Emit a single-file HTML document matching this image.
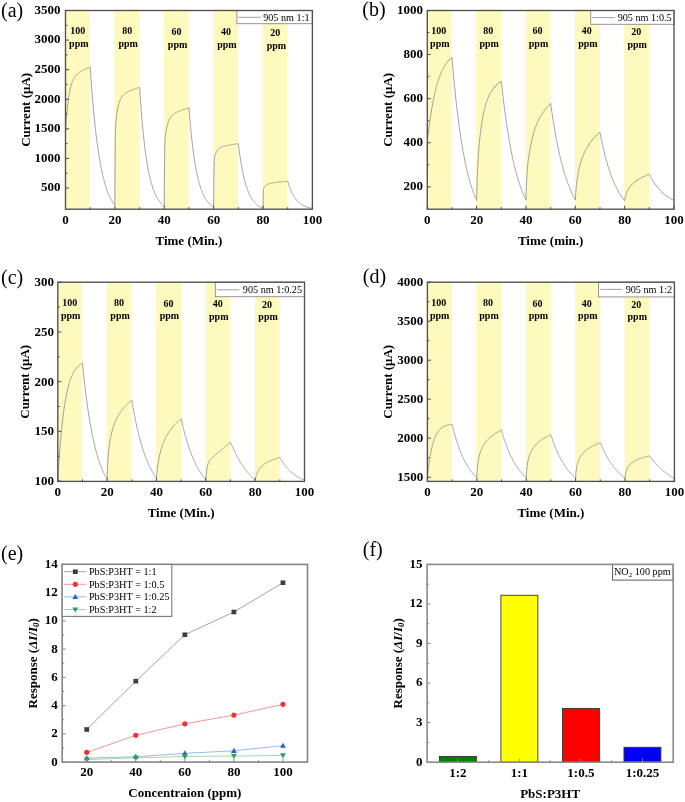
<!DOCTYPE html>
<html><head><meta charset="utf-8"><title>Figure</title>
<style>
html,body{margin:0;padding:0;background:#fff;}
svg{display:block;filter:blur(0.35px);}
svg text{font-family:"Liberation Serif", serif;}
</style></head>
<body>
<svg width="685" height="802" viewBox="0 0 685 802">
<rect width="685" height="802" fill="#fff"/>
<text x="1" y="16.9" font-size="20" font-weight="normal" font-style="normal" text-anchor="start" fill="#000">(a)</text>
<text x="362.3" y="15.9" font-size="20" font-weight="normal" font-style="normal" text-anchor="start" fill="#000">(b)</text>
<text x="1" y="283.6" font-size="20" font-weight="normal" font-style="normal" text-anchor="start" fill="#000">(c)</text>
<text x="362.8" y="283.3" font-size="20" font-weight="normal" font-style="normal" text-anchor="start" fill="#000">(d)</text>
<text x="1" y="560.1" font-size="20" font-weight="normal" font-style="normal" text-anchor="start" fill="#000">(e)</text>
<text x="362.8" y="555.8" font-size="20" font-weight="normal" font-style="normal" text-anchor="start" fill="#000">(f)</text>
<rect x="65.5" y="10.5" width="24.49" height="198.7" fill="#fef9bd"/>
<rect x="114.39" y="10.5" width="24.99" height="198.7" fill="#fef9bd"/>
<rect x="163.77" y="10.5" width="24.99" height="198.7" fill="#fef9bd"/>
<rect x="213.15" y="10.5" width="24.99" height="198.7" fill="#fef9bd"/>
<rect x="262.53" y="10.5" width="24.99" height="198.7" fill="#fef9bd"/>
<path d="M65.5 131.79L65.55 130.99L65.62 129.81L65.75 127.9L65.87 126.05L65.99 124.26L66.12 122.54L66.24 120.87L66.36 119.26L66.49 117.71L66.61 116.2L66.73 114.75L66.98 112L67.23 109.43L67.48 107.02L67.72 104.78L67.97 102.69L68.22 100.73L68.46 98.9L68.71 97.19L68.96 95.59L69.2 94.1L69.45 92.7L69.7 91.39L69.94 90.17L70.19 89.02L70.44 87.94L70.68 86.94L70.93 85.99L71.18 85.1L71.43 84.27L71.67 83.49L71.92 82.76L72.17 82.07L72.41 81.42L72.66 80.81L72.91 80.23L73.15 79.69L73.4 79.17L73.65 78.69L73.89 78.23L74.14 77.8L74.39 77.39L74.64 77L74.88 76.64L75.13 76.29L75.38 75.96L75.62 75.64L75.87 75.34L76.12 75.05L76.36 74.78L76.61 74.52L76.86 74.27L77.1 74.03L77.35 73.8L77.6 73.58L77.84 73.37L78.09 73.17L78.34 72.97L78.59 72.78L78.83 72.6L79.08 72.42L79.33 72.25L79.57 72.08L79.82 71.92L80.07 71.76L80.31 71.61L80.56 71.46L80.81 71.31L81.05 71.17L81.3 71.03L81.55 70.89L81.8 70.76L82.04 70.63L82.29 70.5L82.54 70.37L82.78 70.25L83.03 70.12L83.28 70L83.52 69.88L83.77 69.77L84.02 69.65L84.26 69.54L84.51 69.42L84.76 69.31L85.01 69.2L85.25 69.09L85.5 68.98L85.75 68.87L85.99 68.76L86.24 68.65L86.49 68.55L86.73 68.44L86.98 68.33L87.23 68.23L87.47 68.13L87.72 68.02L87.97 67.92L88.21 67.82L88.46 67.71L88.71 67.61L88.96 67.51L89.2 67.41L89.45 67.31L89.7 67.21L89.94 67.1L90.19 67L90.44 70.71L90.68 74.33L90.93 77.86L91.18 81.31L91.42 84.66L91.67 87.94L91.92 91.13L92.17 94.25L92.41 97.29L92.66 100.25L92.91 103.14L93.15 105.96L93.4 108.71L93.65 111.39L93.89 114.01L94.14 116.56L94.39 119.05L94.63 121.48L94.88 123.85L95.13 126.16L95.37 128.41L95.62 130.61L95.87 132.75L96.12 134.84L96.36 136.88L96.61 138.87L96.86 140.81L97.1 142.7L97.35 144.54L97.6 146.34L97.84 148.1L98.09 149.81L98.34 151.48L98.58 153.11L98.83 154.7L99.08 156.25L99.33 157.76L99.57 159.23L99.82 160.67L100.07 162.07L100.31 163.44L100.56 164.77L100.81 166.08L101.05 167.35L101.3 168.58L101.55 169.79L101.79 170.97L102.04 172.12L102.29 173.24L102.53 174.33L102.78 175.4L103.03 176.43L103.28 177.45L103.52 178.44L103.77 179.4L104.02 180.34L104.26 181.26L104.51 182.16L104.76 183.03L105 183.88L105.25 184.71L105.5 185.52L105.74 186.31L105.99 187.08L106.24 187.83L106.49 188.57L106.73 189.28L106.98 189.98L107.23 190.66L107.47 191.32L107.72 191.97L107.97 192.6L108.21 193.22L108.46 193.82L108.71 194.4L108.95 194.97L109.2 195.53L109.45 196.07L109.7 196.6L109.94 197.12L110.19 197.62L110.44 198.12L110.68 198.6L110.93 199.06L111.18 199.52L111.42 199.96L111.67 200.4L111.92 200.82L112.16 201.24L112.41 201.64L112.66 202.03L112.9 202.41L113.15 202.79L113.4 203.15L113.65 203.51L113.89 203.86L114.14 204.19L114.39 204.52L114.63 204.85L114.88 205.16L114.88 205.16L114.93 191.2L115 174.67L115.13 155.65L115.25 143.61L115.37 135.82L115.5 130.63L115.62 127.04L115.74 124.42L115.87 122.42L115.99 120.81L116.11 119.46L116.36 117.19L116.61 115.27L116.86 113.56L117.1 112L117.35 110.57L117.6 109.25L117.84 108.03L118.09 106.9L118.34 105.86L118.58 104.89L118.83 103.99L119.08 103.15L119.32 102.38L119.57 101.66L119.82 100.99L120.06 100.37L120.31 99.79L120.56 99.25L120.81 98.74L121.05 98.27L121.3 97.83L121.55 97.42L121.79 97.03L122.04 96.67L122.29 96.33L122.53 96.01L122.78 95.7L123.03 95.42L123.27 95.15L123.52 94.89L123.77 94.65L124.02 94.42L124.26 94.21L124.51 94L124.76 93.8L125 93.61L125.25 93.43L125.5 93.26L125.74 93.09L125.99 92.93L126.24 92.77L126.48 92.62L126.73 92.48L126.98 92.34L127.22 92.2L127.47 92.07L127.72 91.94L127.97 91.81L128.21 91.69L128.46 91.57L128.71 91.45L128.95 91.34L129.2 91.23L129.45 91.12L129.69 91.01L129.94 90.9L130.19 90.79L130.43 90.69L130.68 90.59L130.93 90.48L131.18 90.38L131.42 90.28L131.67 90.18L131.92 90.09L132.16 89.99L132.41 89.89L132.66 89.79L132.9 89.7L133.15 89.6L133.4 89.51L133.64 89.42L133.89 89.32L134.14 89.23L134.39 89.14L134.63 89.04L134.88 88.95L135.13 88.86L135.37 88.77L135.62 88.68L135.87 88.59L136.11 88.5L136.36 88.41L136.61 88.32L136.85 88.22L137.1 88.13L137.35 88.04L137.59 87.95L137.84 87.87L138.09 87.78L138.34 87.69L138.58 87.6L138.83 87.51L139.08 87.42L139.32 87.33L139.57 87.24L139.82 91.03L140.06 94.71L140.31 98.28L140.56 101.74L140.8 105.09L141.05 108.34L141.3 111.49L141.55 114.55L141.79 117.51L142.04 120.38L142.29 123.16L142.53 125.86L142.78 128.48L143.03 131.02L143.27 133.48L143.52 135.86L143.77 138.17L144.01 140.42L144.26 142.59L144.51 144.7L144.75 146.74L145 148.72L145.25 150.64L145.5 152.5L145.74 154.3L145.99 156.05L146.24 157.75L146.48 159.39L146.73 160.99L146.98 162.53L147.22 164.03L147.47 165.48L147.72 166.89L147.96 168.26L148.21 169.58L148.46 170.87L148.71 172.11L148.95 173.32L149.2 174.49L149.45 175.62L149.69 176.72L149.94 177.79L150.19 178.82L150.43 179.82L150.68 180.79L150.93 181.73L151.17 182.65L151.42 183.53L151.67 184.39L151.92 185.22L152.16 186.03L152.41 186.81L152.66 187.57L152.9 188.3L153.15 189.02L153.4 189.71L153.64 190.38L153.89 191.03L154.14 191.65L154.38 192.27L154.63 192.86L154.88 193.43L155.12 193.99L155.37 194.53L155.62 195.05L155.87 195.56L156.11 196.05L156.36 196.52L156.61 196.99L156.85 197.43L157.1 197.87L157.35 198.29L157.59 198.7L157.84 199.09L158.09 199.48L158.33 199.85L158.58 200.21L158.83 200.56L159.08 200.9L159.32 201.22L159.57 201.54L159.82 201.85L160.06 202.15L160.31 202.44L160.56 202.72L160.8 203L161.05 203.26L161.3 203.52L161.54 203.76L161.79 204.01L162.04 204.24L162.28 204.47L162.53 204.69L162.78 204.9L163.03 205.1L163.27 205.31L163.52 205.5L163.77 205.69L164.01 205.87L164.26 206.05L164.26 206.05L164.31 194.51L164.38 180.86L164.51 165.14L164.63 155.19L164.75 148.75L164.88 144.45L165 141.47L165.12 139.3L165.25 137.64L165.37 136.3L165.49 135.17L165.74 133.28L165.99 131.68L166.24 130.25L166.48 128.95L166.73 127.75L166.98 126.65L167.22 125.63L167.47 124.68L167.72 123.81L167.96 123L168.21 122.24L168.46 121.54L168.7 120.89L168.95 120.29L169.2 119.73L169.44 119.2L169.69 118.72L169.94 118.26L170.19 117.84L170.43 117.44L170.68 117.07L170.93 116.72L171.17 116.39L171.42 116.08L171.67 115.8L171.91 115.52L172.16 115.27L172.41 115.03L172.65 114.8L172.9 114.58L173.15 114.37L173.4 114.18L173.64 113.99L173.89 113.81L174.14 113.64L174.38 113.48L174.63 113.33L174.88 113.18L175.12 113.03L175.37 112.89L175.62 112.76L175.86 112.63L176.11 112.5L176.36 112.38L176.6 112.26L176.85 112.15L177.1 112.04L177.35 111.93L177.59 111.82L177.84 111.72L178.09 111.61L178.33 111.51L178.58 111.41L178.83 111.32L179.07 111.22L179.32 111.13L179.57 111.03L179.81 110.94L180.06 110.85L180.31 110.76L180.56 110.67L180.8 110.58L181.05 110.5L181.3 110.41L181.54 110.32L181.79 110.24L182.04 110.15L182.28 110.07L182.53 109.99L182.78 109.9L183.02 109.82L183.27 109.74L183.52 109.65L183.77 109.57L184.01 109.49L184.26 109.41L184.51 109.33L184.75 109.25L185 109.16L185.25 109.08L185.49 109L185.74 108.92L185.99 108.84L186.23 108.76L186.48 108.68L186.73 108.6L186.97 108.52L187.22 108.44L187.47 108.36L187.72 108.28L187.96 108.21L188.21 108.13L188.46 108.05L188.7 107.97L188.95 107.89L189.2 111.06L189.44 114.13L189.69 117.11L189.94 119.99L190.18 122.79L190.43 125.5L190.68 128.13L190.93 130.68L191.17 133.16L191.42 135.55L191.67 137.88L191.91 140.13L192.16 142.31L192.41 144.43L192.65 146.48L192.9 148.47L193.15 150.4L193.39 152.27L193.64 154.08L193.89 155.84L194.13 157.55L194.38 159.2L194.63 160.8L194.88 162.35L195.12 163.86L195.37 165.32L195.62 166.73L195.86 168.1L196.11 169.43L196.36 170.72L196.6 171.97L196.85 173.19L197.1 174.36L197.34 175.5L197.59 176.6L197.84 177.67L198.09 178.71L198.33 179.72L198.58 180.69L198.83 181.64L199.07 182.55L199.32 183.44L199.57 184.3L199.81 185.14L200.06 185.95L200.31 186.73L200.55 187.5L200.8 188.23L201.05 188.95L201.29 189.64L201.54 190.32L201.79 190.97L202.04 191.6L202.28 192.21L202.53 192.81L202.78 193.38L203.02 193.94L203.27 194.48L203.52 195.01L203.76 195.51L204.01 196.01L204.26 196.48L204.5 196.95L204.75 197.4L205 197.83L205.25 198.26L205.49 198.67L205.74 199.06L205.99 199.45L206.23 199.82L206.48 200.18L206.73 200.53L206.97 200.87L207.22 201.2L207.47 201.52L207.71 201.83L207.96 202.13L208.21 202.42L208.46 202.7L208.7 202.98L208.95 203.24L209.2 203.5L209.44 203.75L209.69 203.99L209.94 204.23L210.18 204.45L210.43 204.67L210.68 204.89L210.92 205.09L211.17 205.29L211.42 205.49L211.66 205.68L211.91 205.86L212.16 206.04L212.41 206.21L212.65 206.38L212.9 206.54L213.15 206.69L213.39 206.85L213.64 206.99L213.64 206.99L213.69 198.28L213.76 188.01L213.89 176.3L214.01 169.02L214.13 164.43L214.26 161.47L214.38 159.52L214.5 158.18L214.63 157.21L214.75 156.49L214.87 155.91L215.12 155L215.37 154.28L215.62 153.64L215.86 153.08L216.11 152.56L216.36 152.08L216.6 151.63L216.85 151.22L217.1 150.84L217.34 150.49L217.59 150.16L217.84 149.85L218.08 149.57L218.33 149.3L218.58 149.06L218.82 148.83L219.07 148.61L219.32 148.41L219.57 148.23L219.81 148.05L220.06 147.89L220.31 147.73L220.55 147.59L220.8 147.45L221.05 147.32L221.29 147.2L221.54 147.09L221.79 146.98L222.03 146.88L222.28 146.78L222.53 146.69L222.78 146.6L223.02 146.51L223.27 146.43L223.52 146.36L223.76 146.28L224.01 146.21L224.26 146.14L224.5 146.08L224.75 146.01L225 145.95L225.24 145.89L225.49 145.83L225.74 145.78L225.98 145.72L226.23 145.67L226.48 145.61L226.73 145.56L226.97 145.51L227.22 145.46L227.47 145.41L227.71 145.37L227.96 145.32L228.21 145.27L228.45 145.23L228.7 145.18L228.95 145.14L229.19 145.1L229.44 145.05L229.69 145.01L229.94 144.97L230.18 144.92L230.43 144.88L230.68 144.84L230.92 144.8L231.17 144.76L231.42 144.72L231.66 144.68L231.91 144.64L232.16 144.6L232.4 144.56L232.65 144.52L232.9 144.48L233.15 144.44L233.39 144.4L233.64 144.36L233.89 144.32L234.13 144.28L234.38 144.24L234.63 144.2L234.87 144.16L235.12 144.13L235.37 144.09L235.61 144.05L235.86 144.01L236.11 143.97L236.35 143.93L236.6 143.89L236.85 143.86L237.1 143.82L237.34 143.78L237.59 143.74L237.84 143.7L238.08 143.66L238.33 143.63L238.58 145.66L238.82 147.64L239.07 149.56L239.32 151.42L239.56 153.22L239.81 154.97L240.06 156.67L240.31 158.32L240.55 159.91L240.8 161.46L241.05 162.97L241.29 164.42L241.54 165.84L241.79 167.21L242.03 168.54L242.28 169.83L242.53 171.09L242.77 172.3L243.02 173.48L243.27 174.62L243.51 175.73L243.76 176.81L244.01 177.85L244.26 178.87L244.5 179.85L244.75 180.8L245 181.72L245.24 182.62L245.49 183.49L245.74 184.33L245.98 185.15L246.23 185.95L246.48 186.72L246.72 187.46L246.97 188.19L247.22 188.89L247.47 189.57L247.71 190.24L247.96 190.88L248.21 191.5L248.45 192.1L248.7 192.69L248.95 193.26L249.19 193.81L249.44 194.34L249.69 194.86L249.93 195.37L250.18 195.85L250.43 196.33L250.68 196.79L250.92 197.23L251.17 197.66L251.42 198.08L251.66 198.49L251.91 198.89L252.16 199.27L252.4 199.64L252.65 200L252.9 200.35L253.14 200.69L253.39 201.02L253.64 201.34L253.88 201.65L254.13 201.95L254.38 202.24L254.63 202.52L254.87 202.79L255.12 203.06L255.37 203.32L255.61 203.57L255.86 203.81L256.11 204.04L256.35 204.27L256.6 204.49L256.85 204.71L257.09 204.92L257.34 205.12L257.59 205.32L257.84 205.51L258.08 205.69L258.33 205.87L258.58 206.04L258.82 206.21L259.07 206.37L259.32 206.53L259.56 206.69L259.81 206.84L260.06 206.98L260.3 207.12L260.55 207.26L260.8 207.39L261.04 207.52L261.29 207.64L261.54 207.76L261.79 207.88L262.03 207.99L262.28 208.1L262.53 208.21L262.77 208.31L263.02 208.41L263.02 208.41L263.07 204.76L263.14 200.45L263.27 195.55L263.39 192.5L263.51 190.59L263.64 189.35L263.76 188.54L263.88 187.99L264.01 187.59L264.13 187.29L264.25 187.05L264.5 186.68L264.75 186.38L265 186.13L265.24 185.89L265.49 185.68L265.74 185.48L265.98 185.29L266.23 185.12L266.48 184.96L266.72 184.81L266.97 184.67L267.22 184.54L267.46 184.42L267.71 184.3L267.96 184.19L268.2 184.09L268.45 184L268.7 183.91L268.95 183.82L269.19 183.74L269.44 183.66L269.69 183.59L269.93 183.52L270.18 183.46L270.43 183.39L270.67 183.33L270.92 183.28L271.17 183.22L271.41 183.17L271.66 183.12L271.91 183.07L272.16 183.02L272.4 182.98L272.65 182.94L272.9 182.89L273.14 182.85L273.39 182.81L273.64 182.77L273.88 182.73L274.13 182.7L274.38 182.66L274.62 182.62L274.87 182.59L275.12 182.55L275.36 182.52L275.61 182.49L275.86 182.45L276.11 182.42L276.35 182.39L276.6 182.36L276.85 182.33L277.09 182.29L277.34 182.26L277.59 182.23L277.83 182.2L278.08 182.17L278.33 182.14L278.57 182.11L278.82 182.08L279.07 182.06L279.32 182.03L279.56 182L279.81 181.97L280.06 181.94L280.3 181.91L280.55 181.88L280.8 181.85L281.04 181.83L281.29 181.8L281.54 181.77L281.78 181.74L282.03 181.71L282.28 181.69L282.53 181.66L282.77 181.63L283.02 181.6L283.27 181.57L283.51 181.55L283.76 181.52L284.01 181.49L284.25 181.46L284.5 181.44L284.75 181.41L284.99 181.38L285.24 181.35L285.49 181.33L285.73 181.3L285.98 181.27L286.23 181.24L286.48 181.22L286.72 181.19L286.97 181.16L287.22 181.13L287.46 181.11L287.71 181.08L287.96 181.92L288.2 182.74L288.45 183.53L288.7 184.3L288.94 185.05L289.19 185.78L289.44 186.49L289.69 187.17L289.93 187.84L290.18 188.48L290.43 189.11L290.67 189.72L290.92 190.31L291.17 190.88L291.41 191.43L291.66 191.97L291.91 192.5L292.15 193.01L292.4 193.5L292.65 193.98L292.89 194.45L293.14 194.9L293.39 195.34L293.64 195.76L293.88 196.18L294.13 196.58L294.38 196.97L294.62 197.35L294.87 197.71L295.12 198.07L295.36 198.42L295.61 198.75L295.86 199.08L296.1 199.39L296.35 199.7L296.6 200L296.85 200.29L297.09 200.57L297.34 200.84L297.59 201.11L297.83 201.36L298.08 201.61L298.33 201.86L298.57 202.09L298.82 202.32L299.07 202.54L299.31 202.76L299.56 202.96L299.81 203.17L300.05 203.36L300.3 203.55L300.55 203.74L300.8 203.92L301.04 204.09L301.29 204.26L301.54 204.43L301.78 204.59L302.03 204.74L302.28 204.89L302.52 205.04L302.77 205.18L303.02 205.32L303.26 205.45L303.51 205.58L303.76 205.71L304.01 205.83L304.25 205.95L304.5 206.07L304.75 206.18L304.99 206.29L305.24 206.39L305.49 206.5L305.73 206.59L305.98 206.69L306.23 206.78L306.47 206.88L306.72 206.96L306.97 207.05L307.22 207.13L307.46 207.21L307.71 207.29L307.96 207.37L308.2 207.44L308.45 207.51L308.7 207.58L308.94 207.65L309.19 207.72L309.44 207.78L309.68 207.84L309.93 207.9L310.18 207.96L310.42 208.02L310.67 208.07L310.92 208.12L311.17 208.18L311.41 208.23L311.66 208.28L311.91 208.32L312.15 208.37L312.4 208.41" stroke="#959595" stroke-width="0.9" fill="none" stroke-linejoin="round"/>
<rect x="236.9" y="10.5" width="75.4" height="13.2" fill="#fff" stroke="#8a8a8a" stroke-width="0.9"/>
<path d="M238.3 17.3H260.9" stroke="#959595" stroke-width="0.9"/>
<text x="309.6" y="21" font-size="10.2" font-weight="normal" font-style="normal" text-anchor="end" fill="#000">905 nm 1:1</text>
<text x="77.84" y="34.2" font-size="10" font-weight="bold" font-style="normal" text-anchor="middle" fill="#000">100</text>
<text x="78.84" y="46.9" font-size="10" font-weight="bold" font-style="normal" text-anchor="middle" fill="#000">ppm</text>
<text x="127.22" y="34.2" font-size="10" font-weight="bold" font-style="normal" text-anchor="middle" fill="#000">80</text>
<text x="128.22" y="46.9" font-size="10" font-weight="bold" font-style="normal" text-anchor="middle" fill="#000">ppm</text>
<text x="176.6" y="34.9" font-size="10" font-weight="bold" font-style="normal" text-anchor="middle" fill="#000">60</text>
<text x="177.6" y="47.5" font-size="10" font-weight="bold" font-style="normal" text-anchor="middle" fill="#000">ppm</text>
<text x="225.98" y="35" font-size="10" font-weight="bold" font-style="normal" text-anchor="middle" fill="#000">40</text>
<text x="226.98" y="47.6" font-size="10" font-weight="bold" font-style="normal" text-anchor="middle" fill="#000">ppm</text>
<text x="275.36" y="35.9" font-size="10" font-weight="bold" font-style="normal" text-anchor="middle" fill="#000">20</text>
<text x="276.36" y="48.5" font-size="10" font-weight="bold" font-style="normal" text-anchor="middle" fill="#000">ppm</text>
<rect x="65.5" y="10.5" width="246.9" height="198.7" fill="none" stroke="#505050" stroke-width="1.35"/>
<text x="60.5" y="191.4" font-size="13" font-weight="bold" font-style="normal" text-anchor="end" fill="#000">500</text>
<text x="60.5" y="161.82" font-size="13" font-weight="bold" font-style="normal" text-anchor="end" fill="#000">1000</text>
<text x="60.5" y="132.23" font-size="13" font-weight="bold" font-style="normal" text-anchor="end" fill="#000">1500</text>
<text x="60.5" y="102.65" font-size="13" font-weight="bold" font-style="normal" text-anchor="end" fill="#000">2000</text>
<text x="60.5" y="73.07" font-size="13" font-weight="bold" font-style="normal" text-anchor="end" fill="#000">2500</text>
<text x="60.5" y="43.48" font-size="13" font-weight="bold" font-style="normal" text-anchor="end" fill="#000">3000</text>
<text x="60.5" y="13.9" font-size="13" font-weight="bold" font-style="normal" text-anchor="end" fill="#000">3500</text>
<path d="M65.5 188h3.5M65.5 158.42h3.5M65.5 128.83h3.5M65.5 99.25h3.5M65.5 69.67h3.5M65.5 40.08h3.5M65.5 10.5h3.5M65.5 173.21h2M65.5 143.63h2M65.5 114.04h2M65.5 84.46h2M65.5 54.88h2M65.5 25.29h2" stroke="#4a4a4a" stroke-width="1" fill="none"/>
<text x="65.5" y="223.8" font-size="13" font-weight="bold" font-style="normal" text-anchor="middle" fill="#000">0</text>
<text x="114.88" y="223.8" font-size="13" font-weight="bold" font-style="normal" text-anchor="middle" fill="#000">20</text>
<text x="164.26" y="223.8" font-size="13" font-weight="bold" font-style="normal" text-anchor="middle" fill="#000">40</text>
<text x="213.64" y="223.8" font-size="13" font-weight="bold" font-style="normal" text-anchor="middle" fill="#000">60</text>
<text x="263.02" y="223.8" font-size="13" font-weight="bold" font-style="normal" text-anchor="middle" fill="#000">80</text>
<text x="312.4" y="223.8" font-size="13" font-weight="bold" font-style="normal" text-anchor="middle" fill="#000">100</text>
<path d="M65.5 209.2v-3.5M114.88 209.2v-3.5M164.26 209.2v-3.5M213.64 209.2v-3.5M263.02 209.2v-3.5M312.4 209.2v-3.5M90.19 209.2v-2M139.57 209.2v-2M188.95 209.2v-2M238.33 209.2v-2M287.71 209.2v-2" stroke="#4a4a4a" stroke-width="1" fill="none"/>
<text x="188.95" y="245.1" font-size="13" font-weight="bold" font-style="normal" text-anchor="middle" fill="#000">Time (Min.)</text>
<text transform="translate(29.9 109.85) rotate(-90)" x="0" y="0" font-size="13" font-weight="bold" text-anchor="middle">Current (&#956;A)</text>
<rect x="427.3" y="10.5" width="24.47" height="198.7" fill="#fef9bd"/>
<rect x="476.15" y="10.5" width="24.97" height="198.7" fill="#fef9bd"/>
<rect x="525.49" y="10.5" width="24.97" height="198.7" fill="#fef9bd"/>
<rect x="574.83" y="10.5" width="24.97" height="198.7" fill="#fef9bd"/>
<rect x="624.17" y="10.5" width="24.97" height="198.7" fill="#fef9bd"/>
<path d="M427.3 170.69L427.3 142.97L427.55 140.62L427.79 138.03L428.04 136.01L428.29 133.85L428.53 131.92L428.78 129.99L429.03 127.53L429.27 125.56L429.52 124.25L429.77 122.13L430.01 120.58L430.26 118.3L430.51 116.91L430.75 115.45L431 113.49L431.25 112.41L431.49 110.84L431.74 108.73L431.99 107.27L432.23 106.2L432.48 105.09L432.73 103.34L432.97 101.9L433.22 100.75L433.47 99.22L433.71 98.13L433.96 97.08L434.21 95.95L434.45 94.63L434.7 93.52L434.95 92.43L435.19 91.54L435.44 90.39L435.69 89.19L435.93 88.78L436.18 87.63L436.43 86.76L436.67 85.53L436.92 85.21L437.17 84.25L437.41 82.89L437.66 82.21L437.91 81.68L438.15 80.89L438.4 80.29L438.65 79.18L438.89 78.74L439.14 77.92L439.39 76.97L439.63 76.5L439.88 76.05L440.13 75.38L440.38 74.52L440.62 73.97L440.87 72.98L441.12 72.55L441.36 72.37L441.61 71.55L441.86 70.84L442.1 70.58L442.35 70.18L442.6 69.66L442.84 68.96L443.09 68.53L443.34 68.12L443.58 67.85L443.83 67.23L444.08 66.71L444.32 66.36L444.57 65.63L444.82 65.24L445.06 65.32L445.31 65.13L445.56 64.49L445.8 63.99L446.05 63.48L446.3 63.37L446.54 63.37L446.79 62.9L447.04 62.42L447.28 62.33L447.53 61.59L447.78 61.49L448.02 61.51L448.27 60.97L448.52 60.61L448.76 60.21L449.01 60.14L449.26 60.18L449.5 59.26L449.75 59.57L450 59.36L450.24 59.17L450.49 58.84L450.74 58.67L450.98 58.26L451.23 58.08L451.48 57.78L451.72 57.32L451.97 57.7L452.22 60.47L452.46 63.14L452.71 66.24L452.96 69.05L453.2 71.74L453.45 74.47L453.7 77.29L453.94 79.99L454.19 82.58L454.44 85.02L454.68 87.23L454.93 89.83L455.18 92.22L455.42 94.88L455.67 97.41L455.92 99.67L456.16 101.93L456.41 104.16L456.66 105.95L456.9 108.5L457.15 110.49L457.4 112.15L457.64 114.14L457.89 116.14L458.14 118.63L458.38 120.2L458.63 122.01L458.88 124.23L459.12 125.87L459.37 127.48L459.62 129.32L459.86 131.32L460.11 132.78L460.36 134.53L460.6 136.49L460.85 137.94L461.1 139.44L461.34 141.12L461.59 142.35L461.84 144.12L462.08 145.63L462.33 146.93L462.58 148.31L462.82 150.28L463.07 151.4L463.32 152.56L463.56 154.18L463.81 155.64L464.06 156.38L464.31 157.66L464.55 159L464.8 160.63L465.05 161.45L465.29 163.02L465.54 164.17L465.79 165.23L466.03 166.13L466.28 167.77L466.53 168.73L466.77 169.61L467.02 170.46L467.27 171.79L467.51 172.63L467.76 173.76L468.01 174.56L468.25 175.74L468.5 176.29L468.75 177.39L468.99 178.78L469.24 179.62L469.49 180.1L469.73 181.36L469.98 181.83L470.23 183.11L470.47 183.8L470.72 184.39L470.97 185.07L471.21 185.68L471.46 187.06L471.71 187.23L471.95 188.52L472.2 189.36L472.45 189.8L472.69 190.23L472.94 191.41L473.19 192.17L473.43 192.65L473.68 193.17L473.93 193.73L474.17 194.35L474.42 194.87L474.67 195.82L474.91 196.25L475.16 196.68L475.41 197.2L475.65 198.17L475.9 198.47L476.15 199.17L476.39 199.59L476.64 200.51L476.64 200.53L476.69 197.61L476.76 194.47L476.89 189.59L477.01 185.6L477.13 181.44L477.26 177.5L477.38 174.1L477.5 171.4L477.63 168.73L477.75 166.23L477.87 163.43L478.12 159.48L478.37 155.52L478.61 151.93L478.86 149.13L479.11 145.71L479.35 143.36L479.6 140.38L479.85 138.07L480.09 136.34L480.34 133.71L480.59 132.07L480.83 130.02L481.08 128.34L481.33 126.24L481.57 124.53L481.82 122.88L482.07 121.73L482.31 120.06L482.56 118.88L482.81 117.46L483.05 115.62L483.3 114.65L483.55 113.13L483.79 111.92L484.04 110.83L484.29 110.31L484.53 109.22L484.78 108.25L485.03 106.96L485.27 106.23L485.52 105.46L485.77 104.33L486.01 103.64L486.26 102.61L486.51 101.75L486.75 101.14L487 100.87L487.25 99.96L487.49 99.55L487.74 98.59L487.99 97.85L488.23 97.61L488.48 97.07L488.73 95.94L488.98 95.87L489.22 94.95L489.47 94.46L489.72 94.51L489.96 93.45L490.21 93.14L490.46 93.22L490.7 92.39L490.95 91.76L491.2 91.4L491.44 91.05L491.69 91.03L491.94 90.21L492.18 90.41L492.43 89.69L492.68 89.76L492.92 89.38L493.17 88.63L493.42 88.28L493.66 88.13L493.91 87.57L494.16 87.66L494.4 86.94L494.65 86.64L494.9 87.05L495.14 86.3L495.39 86.24L495.64 85.88L495.88 85.54L496.13 85.11L496.38 85.46L496.62 85.26L496.87 85.03L497.12 84.2L497.36 84.04L497.61 84.1L497.86 84.14L498.1 83.61L498.35 83.5L498.6 83.27L498.84 82.79L499.09 82.78L499.34 82.41L499.58 82.17L499.83 81.86L500.08 81.81L500.32 82.11L500.57 81.54L500.82 81.5L501.06 81.31L501.31 81.33L501.56 83.29L501.8 85.53L502.05 87.81L502.3 90.04L502.54 92.6L502.79 94.8L503.04 96.51L503.28 98.63L503.53 100.84L503.78 102.9L504.02 104.91L504.27 106.63L504.52 108.41L504.76 110.47L505.01 112.23L505.26 114.41L505.5 115.89L505.75 117.69L506 119.84L506.24 121.34L506.49 123.39L506.74 124.87L506.98 126.78L507.23 127.91L507.48 129.76L507.72 131.54L507.97 132.59L508.22 134.74L508.46 135.7L508.71 137.6L508.96 139.21L509.2 140.53L509.45 141.59L509.7 142.84L509.94 144.49L510.19 146.12L510.44 147.01L510.68 148.74L510.93 149.5L511.18 151.3L511.42 151.94L511.67 153.36L511.92 154.98L512.16 156.1L512.41 157.34L512.66 158.45L512.9 159.52L513.15 160.6L513.4 161.34L513.64 162.6L513.89 163.47L514.14 164.91L514.39 165.91L514.63 166.63L514.88 167.5L515.13 169.12L515.37 169.98L515.62 170.75L515.87 171.68L516.11 172.83L516.36 173.46L516.61 174.31L516.85 175.15L517.1 175.97L517.35 176.66L517.59 177.93L517.84 178.6L518.09 179.52L518.33 179.97L518.58 180.97L518.83 181.59L519.07 182.35L519.32 183.2L519.57 184.34L519.81 184.76L520.06 185.49L520.31 186.34L520.55 186.77L520.8 187.3L521.05 188.34L521.29 188.99L521.54 189.74L521.79 190.24L522.03 191.05L522.28 191.7L522.53 191.97L522.77 192.76L523.02 193.34L523.27 193.75L523.51 194.46L523.76 195.13L524.01 195.93L524.25 196.49L524.5 196.58L524.75 197.37L524.99 197.48L525.24 198.01L525.49 198.83L525.73 199.58L525.98 199.57L525.98 200L526.03 198.23L526.1 195.23L526.23 191.57L526.35 188.2L526.47 184.76L526.6 182.21L526.72 179.74L526.84 177.37L526.97 175.49L527.09 173.63L527.21 171.93L527.46 168.55L527.71 165.55L527.95 163.18L528.2 160.96L528.45 159.2L528.69 157.46L528.94 155.21L529.19 154L529.43 152.45L529.68 150.69L529.93 149.38L530.17 147.75L530.42 146.83L530.67 145.07L530.91 144.5L531.16 143.19L531.41 141.91L531.65 140.55L531.9 139.93L532.15 138.93L532.39 137.35L532.64 136.82L532.89 135.92L533.13 134.88L533.38 134.02L533.63 132.98L533.87 132.48L534.12 131.7L534.37 130.5L534.61 130.03L534.86 129.03L535.11 128.12L535.35 127.53L535.6 126.7L535.85 126.59L536.09 125.98L536.34 124.76L536.59 124.48L536.83 123.75L537.08 122.96L537.33 122.52L537.57 121.93L537.82 121.74L538.07 120.69L538.32 120.31L538.56 119.98L538.81 119.2L539.06 119.14L539.3 118.65L539.55 118.35L539.8 117.46L540.04 117.08L540.29 116.82L540.54 116.21L540.78 116.02L541.03 115.37L541.28 115.28L541.52 114.96L541.77 114.59L542.02 114.32L542.26 113.65L542.51 113.25L542.76 113.14L543 112.73L543.25 112.24L543.5 111.77L543.74 111.36L543.99 110.91L544.24 111.07L544.48 110.26L544.73 110.38L544.98 109.93L545.22 109.91L545.47 109.46L545.72 109.31L545.96 108.42L546.21 108.38L546.46 108.14L546.7 107.66L546.95 107.51L547.2 107.12L547.44 106.96L547.69 106.32L547.94 106.35L548.18 106.08L548.43 105.71L548.68 105.51L548.92 105.51L549.17 105.18L549.42 104.78L549.66 104.63L549.91 104.18L550.16 103.8L550.4 103.41L550.65 103.35L550.9 105.36L551.14 107.31L551.39 109.01L551.64 110.5L551.88 112.52L552.13 113.82L552.38 115.72L552.62 117.03L552.87 118.86L553.12 120.61L553.36 121.68L553.61 123.11L553.86 124.93L554.1 126.36L554.35 127.7L554.6 128.9L554.84 130.59L555.09 132.02L555.34 133.39L555.58 135.07L555.83 136.22L556.08 137.66L556.32 139.08L556.57 140.27L556.82 141.36L557.06 142.79L557.31 143.95L557.56 145.18L557.8 146.37L558.05 147.4L558.3 148.72L558.54 149.88L558.79 151.22L559.04 152.24L559.28 153.38L559.53 154.42L559.78 155.53L560.02 156.44L560.27 157.3L560.52 158.27L560.76 159.6L561.01 160.72L561.26 161.47L561.5 162.17L561.75 163.61L562 164.31L562.24 165.23L562.49 165.85L562.74 167.08L562.99 168.14L563.23 168.8L563.48 169.62L563.73 170.69L563.97 171.09L564.22 172.26L564.47 173.39L564.71 174.02L564.96 174.62L565.21 175.6L565.45 176.32L565.7 176.81L565.95 177.56L566.19 178.78L566.44 179.09L566.69 179.67L566.93 180.92L567.18 181.4L567.43 181.99L567.67 182.77L567.92 183.6L568.17 183.87L568.41 184.87L568.66 185.55L568.91 186.26L569.15 186.51L569.4 187.37L569.65 187.71L569.89 188.54L570.14 188.87L570.39 189.88L570.63 190.52L570.88 190.71L571.13 191.19L571.37 192.27L571.62 192.63L571.87 193.27L572.11 193.23L572.36 194.36L572.61 194.68L572.85 194.97L573.1 195.56L573.35 196.28L573.59 196.79L573.84 196.85L574.09 197.63L574.33 197.77L574.58 198.8L574.83 198.88L575.07 199.66L575.32 199.97L575.32 199.89L575.57 195.59L575.81 192.35L576.06 189.11L576.31 186.5L576.55 184.56L576.8 182.19L577.05 180.53L577.29 178.4L577.54 177.08L577.79 175.55L578.03 173.83L578.28 172.34L578.53 171.27L578.77 170.14L579.02 168.72L579.27 167.7L579.51 166.57L579.76 165.97L580.01 165.22L580.25 163.85L580.5 162.85L580.75 162.48L580.99 161.75L581.24 161.07L581.49 160.07L581.73 159.15L581.98 158.8L582.23 157.61L582.47 157.35L582.72 156.28L582.97 155.87L583.21 155.33L583.46 154.65L583.71 153.93L583.95 153.41L584.2 153.28L584.45 152.49L584.69 152.05L584.94 151.28L585.19 151.13L585.43 150.38L585.68 150.08L585.93 149.83L586.17 149.44L586.42 148.32L586.67 148.41L586.91 148.02L587.16 147.22L587.41 146.85L587.65 146.58L587.9 146.42L588.15 145.66L588.4 145.61L588.64 145.14L588.89 144.35L589.14 144.51L589.38 143.52L589.63 143.26L589.88 143.27L590.12 142.5L590.37 142.39L590.62 141.88L590.86 141.78L591.11 141.72L591.36 141.45L591.6 140.52L591.85 140.23L592.1 140.47L592.34 139.61L592.59 139.47L592.84 139.07L593.08 138.76L593.33 138.43L593.58 138.57L593.82 138.37L594.07 138.05L594.32 137.89L594.56 137.49L594.81 137.03L595.06 136.94L595.3 136.92L595.55 136.43L595.8 135.9L596.04 135.52L596.29 135.88L596.54 135.4L596.78 134.99L597.03 134.92L597.28 134.65L597.52 134.39L597.77 133.84L598.02 133.81L598.26 133.63L598.51 133.25L598.76 133.5L599 132.96L599.25 132.91L599.5 132.73L599.74 132.54L599.99 132.31L600.24 133.64L600.48 134.59L600.73 136.37L600.98 137.05L601.22 138.82L601.47 139.99L601.72 141.19L601.96 141.82L602.21 143.01L602.46 144.66L602.7 145.55L602.95 146.59L603.2 148.12L603.44 148.54L603.69 149.94L603.94 150.93L604.18 151.74L604.43 152.94L604.68 154.16L604.92 155.27L605.17 155.64L605.42 156.95L605.66 157.59L605.91 159.01L606.16 159.43L606.4 160.29L606.65 161.43L606.9 162.54L607.14 163.11L607.39 163.83L607.64 165.13L607.88 165.96L608.13 166.81L608.38 167.22L608.62 168.09L608.87 168.74L609.12 169.72L609.36 170.31L609.61 171.06L609.86 172.1L610.1 172.94L610.35 173.39L610.6 173.75L610.84 174.82L611.09 175.35L611.34 176.4L611.58 176.87L611.83 177.59L612.08 178.14L612.33 178.65L612.57 179.52L612.82 180.08L613.07 180.3L613.31 180.8L613.56 181.53L613.81 182.21L614.05 182.48L614.3 183.2L614.55 183.91L614.79 184.08L615.04 185.15L615.29 185.56L615.53 185.84L615.78 186.34L616.03 186.87L616.27 187.35L616.52 188.13L616.77 188.43L617.01 188.92L617.26 189.12L617.51 190.11L617.75 190.15L618 190.6L618.25 190.85L618.49 191.92L618.74 191.99L618.99 192.71L619.23 193.14L619.48 193.57L619.73 193.86L619.97 194.33L620.22 194.72L620.47 195.01L620.71 194.92L620.96 195.56L621.21 195.96L621.45 196.61L621.7 196.82L621.95 197.11L622.19 197.49L622.44 197.55L622.69 198.29L622.93 198.41L623.18 198.57L623.43 198.93L623.67 199.6L623.92 199.6L624.17 199.65L624.41 199.93L624.66 200.6L624.66 200.52L624.91 199.44L625.15 197.77L625.4 196.9L625.65 196.19L625.89 194.86L626.14 194.12L626.39 193.71L626.63 192.85L626.88 192.12L627.13 191.64L627.37 191.35L627.62 190.75L627.87 189.94L628.11 189.47L628.36 189.57L628.61 189L628.85 188.26L629.1 188.35L629.35 187.39L629.59 187.27L629.84 187.25L630.09 186.82L630.33 186.2L630.58 186.31L630.83 185.8L631.07 185.7L631.32 185.43L631.57 184.83L631.81 184.73L632.06 184.38L632.31 184.4L632.55 184.05L632.8 183.76L633.05 183.59L633.29 183.49L633.54 182.74L633.79 182.49L634.03 182.65L634.28 182.46L634.53 182.08L634.77 181.86L635.02 181.6L635.27 181.74L635.51 181.5L635.76 181.16L636.01 180.6L636.25 180.99L636.5 180.54L636.75 180.18L637 180.09L637.24 180.2L637.49 179.56L637.74 179.48L637.98 179.45L638.23 179.7L638.48 179.45L638.72 179.46L638.97 179.01L639.22 178.89L639.46 178.73L639.71 178.57L639.96 178.44L640.2 178.5L640.45 178.46L640.7 177.94L640.94 177.97L641.19 177.61L641.44 177.48L641.68 177.5L641.93 177.43L642.18 177.28L642.42 177.46L642.67 176.77L642.92 176.99L643.16 177.12L643.41 176.82L643.66 176.59L643.9 176.34L644.15 176.25L644.4 176.52L644.64 176.38L644.89 176.11L645.14 176.17L645.38 176.08L645.63 175.92L645.88 175.5L646.12 175.45L646.37 175.58L646.62 175.19L646.86 175.35L647.11 175.07L647.36 174.87L647.6 174.86L647.85 174.53L648.1 174.6L648.34 174.55L648.59 174.18L648.84 174.2L649.08 174.17L649.33 174.5L649.58 174.8L649.82 175.07L650.07 176.04L650.32 175.99L650.56 176.63L650.81 177.24L651.06 177.65L651.3 177.91L651.55 178.59L651.8 178.81L652.04 179.4L652.29 179.66L652.54 180.4L652.78 180.63L653.03 180.59L653.28 181.01L653.52 181.99L653.77 181.85L654.02 182.09L654.26 182.62L654.51 183.15L654.76 183.84L655 183.81L655.25 184.39L655.5 184.81L655.74 184.63L655.99 185.34L656.24 185.94L656.48 185.95L656.73 186.26L656.98 186.45L657.22 187.18L657.47 187.51L657.72 187.21L657.96 187.83L658.21 188.03L658.46 188.5L658.7 188.4L658.95 188.79L659.2 189.08L659.44 189.49L659.69 189.98L659.94 190.3L660.18 190.51L660.43 190.7L660.68 190.54L660.92 191.01L661.17 191.45L661.42 191.44L661.66 191.83L661.91 192.35L662.16 192.03L662.41 192.78L662.65 192.49L662.9 192.91L663.15 193.5L663.39 193.22L663.64 193.67L663.89 193.81L664.13 194.35L664.38 194.63L664.63 194.34L664.87 194.69L665.12 195.17L665.37 195.12L665.61 195.08L665.86 195.65L666.11 195.55L666.35 195.84L666.6 195.69L666.85 196.55L667.09 196.5L667.34 196.86L667.59 197.07L667.83 196.74L668.08 197.1L668.33 197.2L668.57 197.59L668.82 197.81L669.07 197.54L669.31 197.72L669.56 198.18L669.81 198.13L670.05 198.08L670.3 198.27L670.55 198.68L670.79 198.85L671.04 199.24L671.29 199.08L671.53 199.27L671.78 199.09L672.03 199.41L672.27 199.44L672.52 199.87L672.77 199.69L673.01 199.78L673.26 200.02L673.51 200.21L673.75 200.24L674 200.55" stroke="#959595" stroke-width="0.9" fill="none" stroke-linejoin="round"/>
<rect x="590.7" y="10.5" width="83.5" height="13.8" fill="#fff" stroke="#8a8a8a" stroke-width="0.9"/>
<path d="M592.4 17.6H614.7" stroke="#959595" stroke-width="0.9"/>
<text x="671.7" y="21.2" font-size="10.2" font-weight="normal" font-style="normal" text-anchor="end" fill="#000">905 nm 1:0.5</text>
<text x="438.83" y="34" font-size="10" font-weight="bold" font-style="normal" text-anchor="middle" fill="#000">100</text>
<text x="439.83" y="46.7" font-size="10" font-weight="bold" font-style="normal" text-anchor="middle" fill="#000">ppm</text>
<text x="488.18" y="33.5" font-size="10" font-weight="bold" font-style="normal" text-anchor="middle" fill="#000">80</text>
<text x="489.18" y="46.7" font-size="10" font-weight="bold" font-style="normal" text-anchor="middle" fill="#000">ppm</text>
<text x="537.52" y="34.3" font-size="10" font-weight="bold" font-style="normal" text-anchor="middle" fill="#000">60</text>
<text x="538.52" y="46.7" font-size="10" font-weight="bold" font-style="normal" text-anchor="middle" fill="#000">ppm</text>
<text x="586.86" y="34.1" font-size="10" font-weight="bold" font-style="normal" text-anchor="middle" fill="#000">40</text>
<text x="587.86" y="46.7" font-size="10" font-weight="bold" font-style="normal" text-anchor="middle" fill="#000">ppm</text>
<text x="636.2" y="35" font-size="10" font-weight="bold" font-style="normal" text-anchor="middle" fill="#000">20</text>
<text x="637.2" y="47.7" font-size="10" font-weight="bold" font-style="normal" text-anchor="middle" fill="#000">ppm</text>
<rect x="427.3" y="10.5" width="246.7" height="198.7" fill="none" stroke="#505050" stroke-width="1.35"/>
<text x="422.9" y="190.21" font-size="13" font-weight="bold" font-style="normal" text-anchor="end" fill="#000">200</text>
<text x="422.9" y="146.13" font-size="13" font-weight="bold" font-style="normal" text-anchor="end" fill="#000">400</text>
<text x="422.9" y="102.05" font-size="13" font-weight="bold" font-style="normal" text-anchor="end" fill="#000">600</text>
<text x="422.9" y="57.98" font-size="13" font-weight="bold" font-style="normal" text-anchor="end" fill="#000">800</text>
<text x="422.9" y="13.9" font-size="13" font-weight="bold" font-style="normal" text-anchor="end" fill="#000">1000</text>
<path d="M427.3 186.81h3.5M427.3 142.73h3.5M427.3 98.65h3.5M427.3 54.58h3.5M427.3 10.5h3.5M427.3 164.77h2M427.3 120.69h2M427.3 76.62h2M427.3 32.54h2" stroke="#4a4a4a" stroke-width="1" fill="none"/>
<text x="427.3" y="223.8" font-size="13" font-weight="bold" font-style="normal" text-anchor="middle" fill="#000">0</text>
<text x="476.64" y="223.8" font-size="13" font-weight="bold" font-style="normal" text-anchor="middle" fill="#000">20</text>
<text x="525.98" y="223.8" font-size="13" font-weight="bold" font-style="normal" text-anchor="middle" fill="#000">40</text>
<text x="575.32" y="223.8" font-size="13" font-weight="bold" font-style="normal" text-anchor="middle" fill="#000">60</text>
<text x="624.66" y="223.8" font-size="13" font-weight="bold" font-style="normal" text-anchor="middle" fill="#000">80</text>
<text x="674" y="223.8" font-size="13" font-weight="bold" font-style="normal" text-anchor="middle" fill="#000">100</text>
<path d="M427.3 209.2v-3.5M476.64 209.2v-3.5M525.98 209.2v-3.5M575.32 209.2v-3.5M624.66 209.2v-3.5M674 209.2v-3.5M451.97 209.2v-2M501.31 209.2v-2M550.65 209.2v-2M599.99 209.2v-2M649.33 209.2v-2" stroke="#4a4a4a" stroke-width="1" fill="none"/>
<text x="550.65" y="245.1" font-size="13" font-weight="bold" font-style="normal" text-anchor="middle" fill="#000">Time (min.)</text>
<text transform="translate(391.8 109.85) rotate(-90)" x="0" y="0" font-size="13" font-weight="bold" text-anchor="middle">Current (&#956;A)</text>
<rect x="57.8" y="282.2" width="24.47" height="199.2" fill="#fef9bd"/>
<rect x="106.65" y="282.2" width="24.97" height="199.2" fill="#fef9bd"/>
<rect x="155.99" y="282.2" width="24.97" height="199.2" fill="#fef9bd"/>
<rect x="205.33" y="282.2" width="24.97" height="199.2" fill="#fef9bd"/>
<rect x="254.67" y="282.2" width="24.97" height="199.2" fill="#fef9bd"/>
<path d="M57.8 479.11L58.05 475L58.29 471.03L58.54 467.19L58.79 463.49L59.03 459.92L59.28 456.46L59.53 453.13L59.77 449.91L60.02 446.8L60.27 443.8L60.51 440.9L60.76 438.11L61.01 435.4L61.25 432.79L61.5 430.27L61.75 427.84L61.99 425.49L62.24 423.22L62.49 421.03L62.73 418.92L62.98 416.88L63.23 414.9L63.47 413L63.72 411.16L63.97 409.39L64.21 407.67L64.46 406.02L64.71 404.42L64.95 402.87L65.2 401.38L65.45 399.95L65.69 398.56L65.94 397.21L66.19 395.92L66.43 394.67L66.68 393.46L66.93 392.29L67.17 391.17L67.42 390.08L67.67 389.03L67.91 388.01L68.16 387.03L68.41 386.09L68.65 385.18L68.9 384.29L69.15 383.44L69.39 382.62L69.64 381.83L69.89 381.06L70.13 380.32L70.38 379.61L70.63 378.92L70.88 378.25L71.12 377.61L71.37 376.98L71.62 376.38L71.86 375.81L72.11 375.25L72.36 374.71L72.6 374.18L72.85 373.68L73.1 373.19L73.34 372.72L73.59 372.27L73.84 371.83L74.08 371.41L74.33 371L74.58 370.61L74.82 370.23L75.07 369.86L75.32 369.51L75.56 369.16L75.81 368.83L76.06 368.51L76.3 368.2L76.55 367.91L76.8 367.62L77.04 367.34L77.29 367.07L77.54 366.81L77.78 366.56L78.03 366.32L78.28 366.09L78.52 365.86L78.77 365.65L79.02 365.44L79.26 365.23L79.51 365.04L79.76 364.85L80 364.67L80.25 364.49L80.5 364.32L80.74 364.16L80.99 364L81.24 363.84L81.48 363.7L81.73 363.55L81.98 363.41L82.22 363.28L82.47 363.15L82.72 365.67L82.96 368.13L83.21 370.56L83.46 372.94L83.7 375.27L83.95 377.56L84.2 379.82L84.44 382.03L84.69 384.2L84.94 386.33L85.18 388.42L85.43 390.47L85.68 392.48L85.92 394.46L86.17 396.41L86.42 398.31L86.66 400.19L86.91 402.02L87.16 403.83L87.4 405.6L87.65 407.34L87.9 409.05L88.14 410.73L88.39 412.37L88.64 413.99L88.88 415.58L89.13 417.13L89.38 418.66L89.62 420.16L89.87 421.64L90.12 423.08L90.36 424.51L90.61 425.9L90.86 427.27L91.1 428.61L91.35 429.93L91.6 431.23L91.84 432.5L92.09 433.75L92.34 434.98L92.58 436.18L92.83 437.36L93.08 438.52L93.32 439.66L93.57 440.78L93.82 441.88L94.06 442.96L94.31 444.02L94.56 445.06L94.81 446.08L95.05 447.08L95.3 448.06L95.55 449.03L95.79 449.97L96.04 450.9L96.29 451.82L96.53 452.71L96.78 453.59L97.03 454.46L97.27 455.31L97.52 456.14L97.77 456.96L98.01 457.76L98.26 458.55L98.51 459.32L98.75 460.08L99 460.83L99.25 461.56L99.49 462.28L99.74 462.99L99.99 463.68L100.23 464.36L100.48 465.03L100.73 465.68L100.97 466.33L101.22 466.96L101.47 467.58L101.71 468.19L101.96 468.79L102.21 469.38L102.45 469.95L102.7 470.52L102.95 471.07L103.19 471.62L103.44 472.16L103.69 472.68L103.93 473.2L104.18 473.71L104.43 474.2L104.67 474.69L104.92 475.17L105.17 475.64L105.41 476.1L105.66 476.56L105.91 477L106.15 477.44L106.4 477.87L106.65 478.29L106.89 478.71L107.14 479.11L107.14 479.11L107.39 470.98L107.63 465.21L107.88 460.73L108.13 457.08L108.37 453.98L108.62 451.31L108.87 448.94L109.11 446.83L109.36 444.92L109.61 443.17L109.85 441.57L110.1 440.08L110.35 438.7L110.59 437.4L110.84 436.19L111.09 435.04L111.33 433.96L111.58 432.93L111.83 431.95L112.07 431.02L112.32 430.12L112.57 429.27L112.81 428.45L113.06 427.66L113.31 426.91L113.55 426.18L113.8 425.47L114.05 424.79L114.29 424.14L114.54 423.5L114.79 422.88L115.03 422.28L115.28 421.7L115.53 421.14L115.77 420.59L116.02 420.05L116.27 419.53L116.51 419.02L116.76 418.53L117.01 418.05L117.25 417.57L117.5 417.11L117.75 416.66L117.99 416.22L118.24 415.79L118.49 415.37L118.73 414.95L118.98 414.55L119.23 414.15L119.47 413.76L119.72 413.38L119.97 413L120.22 412.64L120.46 412.28L120.71 411.92L120.96 411.57L121.2 411.23L121.45 410.89L121.7 410.56L121.94 410.23L122.19 409.91L122.44 409.6L122.68 409.29L122.93 408.98L123.18 408.68L123.42 408.38L123.67 408.09L123.92 407.8L124.16 407.51L124.41 407.23L124.66 406.96L124.9 406.68L125.15 406.42L125.4 406.15L125.64 405.89L125.89 405.63L126.14 405.37L126.38 405.12L126.63 404.87L126.88 404.63L127.12 404.38L127.37 404.14L127.62 403.91L127.86 403.67L128.11 403.44L128.36 403.21L128.6 402.98L128.85 402.76L129.1 402.54L129.34 402.32L129.59 402.1L129.84 401.89L130.08 401.67L130.33 401.46L130.58 401.26L130.82 401.05L131.07 400.85L131.32 400.65L131.56 400.45L131.81 400.25L132.06 401.73L132.3 403.19L132.55 404.63L132.8 406.05L133.04 407.45L133.29 408.82L133.54 410.18L133.78 411.52L134.03 412.83L134.28 414.13L134.52 415.41L134.77 416.67L135.02 417.91L135.26 419.13L135.51 420.34L135.76 421.52L136 422.69L136.25 423.84L136.5 424.98L136.74 426.1L136.99 427.2L137.24 428.29L137.48 429.36L137.73 430.41L137.98 431.45L138.22 432.47L138.47 433.48L138.72 434.48L138.96 435.45L139.21 436.42L139.46 437.37L139.7 438.31L139.95 439.23L140.2 440.14L140.44 441.03L140.69 441.91L140.94 442.78L141.18 443.64L141.43 444.48L141.68 445.32L141.92 446.14L142.17 446.94L142.42 447.74L142.66 448.52L142.91 449.29L143.16 450.05L143.4 450.8L143.65 451.54L143.9 452.27L144.14 452.99L144.39 453.69L144.64 454.39L144.89 455.08L145.13 455.75L145.38 456.42L145.63 457.07L145.87 457.72L146.12 458.36L146.37 458.98L146.61 459.6L146.86 460.21L147.11 460.81L147.35 461.4L147.6 461.99L147.85 462.56L148.09 463.13L148.34 463.68L148.59 464.23L148.83 464.77L149.08 465.31L149.33 465.83L149.57 466.35L149.82 466.86L150.07 467.36L150.31 467.86L150.56 468.34L150.81 468.82L151.05 469.3L151.3 469.76L151.55 470.22L151.79 470.68L152.04 471.12L152.29 471.56L152.53 471.99L152.78 472.42L153.03 472.84L153.27 473.26L153.52 473.66L153.77 474.07L154.01 474.46L154.26 474.85L154.51 475.24L154.75 475.62L155 475.99L155.25 476.36L155.49 476.72L155.74 477.08L155.99 477.43L156.23 477.78L156.48 478.12L156.48 478.12L156.73 475.13L156.97 472.5L157.22 470.16L157.47 468.05L157.71 466.13L157.96 464.37L158.21 462.75L158.45 461.23L158.7 459.82L158.95 458.5L159.19 457.25L159.44 456.07L159.69 454.95L159.93 453.89L160.18 452.88L160.43 451.91L160.67 450.99L160.92 450.1L161.17 449.25L161.41 448.43L161.66 447.64L161.91 446.88L162.15 446.15L162.4 445.44L162.65 444.75L162.89 444.09L163.14 443.44L163.39 442.81L163.63 442.2L163.88 441.61L164.13 441.04L164.37 440.48L164.62 439.93L164.87 439.4L165.11 438.88L165.36 438.37L165.61 437.87L165.85 437.39L166.1 436.91L166.35 436.45L166.59 435.99L166.84 435.55L167.09 435.11L167.33 434.69L167.58 434.27L167.83 433.86L168.07 433.46L168.32 433.06L168.57 432.67L168.81 432.29L169.06 431.92L169.31 431.55L169.56 431.19L169.8 430.83L170.05 430.48L170.3 430.14L170.54 429.8L170.79 429.46L171.04 429.13L171.28 428.81L171.53 428.49L171.78 428.18L172.02 427.87L172.27 427.56L172.52 427.26L172.76 426.97L173.01 426.67L173.26 426.38L173.5 426.1L173.75 425.82L174 425.54L174.24 425.27L174.49 425L174.74 424.73L174.98 424.46L175.23 424.2L175.48 423.95L175.72 423.69L175.97 423.44L176.22 423.19L176.46 422.95L176.71 422.7L176.96 422.46L177.2 422.23L177.45 421.99L177.7 421.76L177.94 421.53L178.19 421.3L178.44 421.08L178.68 420.85L178.93 420.63L179.18 420.42L179.42 420.2L179.67 419.99L179.92 419.77L180.16 419.56L180.41 419.36L180.66 419.15L180.9 418.95L181.15 418.75L181.4 419.86L181.64 420.95L181.89 422.04L182.14 423.1L182.38 424.16L182.63 425.2L182.88 426.22L183.12 427.23L183.37 428.23L183.62 429.21L183.86 430.18L184.11 431.14L184.36 432.09L184.6 433.02L184.85 433.94L185.1 434.84L185.34 435.74L185.59 436.62L185.84 437.49L186.08 438.35L186.33 439.19L186.58 440.03L186.82 440.85L187.07 441.67L187.32 442.47L187.56 443.26L187.81 444.04L188.06 444.81L188.3 445.57L188.55 446.32L188.8 447.06L189.04 447.79L189.29 448.51L189.54 449.22L189.78 449.92L190.03 450.61L190.28 451.29L190.52 451.96L190.77 452.62L191.02 453.28L191.26 453.92L191.51 454.56L191.76 455.19L192 455.81L192.25 456.42L192.5 457.02L192.74 457.61L192.99 458.2L193.24 458.78L193.49 459.35L193.73 459.91L193.98 460.47L194.23 461.02L194.47 461.56L194.72 462.09L194.97 462.62L195.21 463.13L195.46 463.65L195.71 464.15L195.95 464.65L196.2 465.14L196.45 465.63L196.69 466.1L196.94 466.58L197.19 467.04L197.43 467.5L197.68 467.95L197.93 468.4L198.17 468.84L198.42 469.27L198.67 469.7L198.91 470.13L199.16 470.54L199.41 470.96L199.65 471.36L199.9 471.76L200.15 472.16L200.39 472.55L200.64 472.93L200.89 473.31L201.13 473.69L201.38 474.05L201.63 474.42L201.87 474.78L202.12 475.13L202.37 475.48L202.61 475.83L202.86 476.17L203.11 476.5L203.35 476.83L203.6 477.16L203.85 477.48L204.09 477.8L204.34 478.11L204.59 478.42L204.83 478.73L205.08 479.03L205.33 479.33L205.57 479.62L205.82 479.91L205.82 480.11L206.07 476.8L206.31 474.05L206.56 471.77L206.81 469.86L207.05 468.26L207.3 466.91L207.55 465.76L207.79 464.79L208.04 463.96L208.29 463.24L208.53 462.61L208.78 462.06L209.03 461.56L209.27 461.13L209.52 460.73L209.77 460.37L210.01 460.03L210.26 459.72L210.51 459.42L210.75 459.15L211 458.88L211.25 458.62L211.49 458.38L211.74 458.14L211.99 457.9L212.23 457.67L212.48 457.45L212.73 457.22L212.97 457L213.22 456.79L213.47 456.57L213.71 456.35L213.96 456.14L214.21 455.93L214.45 455.71L214.7 455.5L214.95 455.29L215.19 455.08L215.44 454.87L215.69 454.66L215.93 454.45L216.18 454.24L216.43 454.03L216.67 453.82L216.92 453.61L217.17 453.4L217.41 453.19L217.66 452.98L217.91 452.77L218.15 452.57L218.4 452.36L218.65 452.15L218.9 451.94L219.14 451.73L219.39 451.52L219.64 451.31L219.88 451.1L220.13 450.89L220.38 450.68L220.62 450.47L220.87 450.27L221.12 450.06L221.36 449.85L221.61 449.64L221.86 449.43L222.1 449.22L222.35 449.01L222.6 448.8L222.84 448.59L223.09 448.39L223.34 448.18L223.58 447.97L223.83 447.76L224.08 447.55L224.32 447.34L224.57 447.13L224.82 446.92L225.06 446.71L225.31 446.5L225.56 446.3L225.8 446.09L226.05 445.88L226.3 445.67L226.54 445.46L226.79 445.25L227.04 445.04L227.28 444.83L227.53 444.62L227.78 444.42L228.02 444.21L228.27 444L228.52 443.79L228.76 443.58L229.01 443.37L229.26 443.16L229.5 442.95L229.75 442.74L230 442.53L230.24 442.33L230.49 442.12L230.74 442.72L230.98 443.32L231.23 443.92L231.48 444.51L231.72 445.09L231.97 445.67L232.22 446.24L232.46 446.8L232.71 447.36L232.96 447.91L233.2 448.46L233.45 449L233.7 449.54L233.94 450.07L234.19 450.59L234.44 451.11L234.68 451.63L234.93 452.14L235.18 452.64L235.42 453.14L235.67 453.63L235.92 454.12L236.16 454.6L236.41 455.08L236.66 455.56L236.9 456.02L237.15 456.49L237.4 456.95L237.64 457.4L237.89 457.85L238.14 458.29L238.38 458.73L238.63 459.17L238.88 459.6L239.12 460.03L239.37 460.45L239.62 460.87L239.86 461.28L240.11 461.69L240.36 462.1L240.6 462.5L240.85 462.9L241.1 463.29L241.34 463.68L241.59 464.06L241.84 464.44L242.08 464.82L242.33 465.19L242.58 465.56L242.82 465.93L243.07 466.29L243.32 466.65L243.57 467L243.81 467.35L244.06 467.7L244.31 468.04L244.55 468.38L244.8 468.72L245.05 469.05L245.29 469.38L245.54 469.7L245.79 470.03L246.03 470.35L246.28 470.66L246.53 470.98L246.77 471.28L247.02 471.59L247.27 471.89L247.51 472.19L247.76 472.49L248.01 472.78L248.25 473.08L248.5 473.36L248.75 473.65L248.99 473.93L249.24 474.21L249.49 474.49L249.73 474.76L249.98 475.03L250.23 475.3L250.47 475.56L250.72 475.82L250.97 476.08L251.21 476.34L251.46 476.59L251.71 476.85L251.95 477.09L252.2 477.34L252.45 477.59L252.69 477.83L252.94 478.07L253.19 478.3L253.43 478.54L253.68 478.77L253.93 479L254.17 479.22L254.42 479.45L254.67 479.67L254.91 479.89L255.16 480.11L255.16 480.11L255.41 478.75L255.65 477.6L255.9 476.61L256.15 475.73L256.39 474.94L256.64 474.23L256.89 473.59L257.13 472.99L257.38 472.44L257.63 471.92L257.87 471.44L258.12 470.99L258.37 470.57L258.61 470.16L258.86 469.78L259.11 469.42L259.35 469.07L259.6 468.74L259.85 468.42L260.09 468.12L260.34 467.83L260.59 467.55L260.83 467.28L261.08 467.02L261.33 466.76L261.57 466.52L261.82 466.28L262.07 466.05L262.31 465.83L262.56 465.61L262.81 465.4L263.05 465.2L263.3 465L263.55 464.81L263.79 464.62L264.04 464.44L264.29 464.26L264.53 464.08L264.78 463.91L265.03 463.74L265.27 463.58L265.52 463.42L265.77 463.26L266.01 463.11L266.26 462.96L266.51 462.81L266.75 462.67L267 462.52L267.25 462.38L267.5 462.25L267.74 462.11L267.99 461.98L268.24 461.85L268.48 461.73L268.73 461.6L268.98 461.48L269.22 461.36L269.47 461.24L269.72 461.12L269.96 461L270.21 460.89L270.46 460.78L270.7 460.67L270.95 460.56L271.2 460.45L271.44 460.35L271.69 460.24L271.94 460.14L272.18 460.04L272.43 459.94L272.68 459.84L272.92 459.74L273.17 459.65L273.42 459.55L273.66 459.46L273.91 459.37L274.16 459.27L274.4 459.18L274.65 459.09L274.9 459.01L275.14 458.92L275.39 458.83L275.64 458.75L275.88 458.66L276.13 458.58L276.38 458.5L276.62 458.42L276.87 458.34L277.12 458.26L277.36 458.18L277.61 458.1L277.86 458.02L278.1 457.95L278.35 457.87L278.6 457.8L278.84 457.72L279.09 457.65L279.34 457.58L279.58 457.5L279.83 457.43L280.08 457.88L280.32 458.32L280.57 458.75L280.82 459.17L281.06 459.59L281.31 460.01L281.56 460.41L281.8 460.81L282.05 461.2L282.3 461.59L282.54 461.97L282.79 462.35L283.04 462.72L283.28 463.08L283.53 463.44L283.78 463.79L284.02 464.14L284.27 464.48L284.52 464.81L284.76 465.14L285.01 465.47L285.26 465.79L285.5 466.11L285.75 466.42L286 466.72L286.24 467.02L286.49 467.32L286.74 467.61L286.98 467.9L287.23 468.18L287.48 468.46L287.72 468.74L287.97 469.01L288.22 469.27L288.46 469.53L288.71 469.79L288.96 470.04L289.2 470.29L289.45 470.54L289.7 470.78L289.94 471.02L290.19 471.25L290.44 471.48L290.68 471.71L290.93 471.93L291.18 472.15L291.42 472.37L291.67 472.58L291.92 472.79L292.17 473L292.41 473.2L292.66 473.4L292.91 473.6L293.15 473.8L293.4 473.99L293.65 474.18L293.89 474.36L294.14 474.54L294.39 474.72L294.63 474.9L294.88 475.07L295.13 475.24L295.37 475.41L295.62 475.58L295.87 475.74L296.11 475.9L296.36 476.06L296.61 476.22L296.85 476.37L297.1 476.52L297.35 476.67L297.59 476.82L297.84 476.96L298.09 477.1L298.33 477.24L298.58 477.38L298.83 477.51L299.07 477.65L299.32 477.78L299.57 477.91L299.81 478.04L300.06 478.16L300.31 478.28L300.55 478.4L300.8 478.52L301.05 478.64L301.29 478.76L301.54 478.87L301.79 478.98L302.03 479.09L302.28 479.2L302.53 479.31L302.77 479.41L303.02 479.52L303.27 479.62L303.51 479.72L303.76 479.82L304.01 479.92L304.25 480.01L304.5 480.11" stroke="#959595" stroke-width="0.9" fill="none" stroke-linejoin="round"/>
<rect x="215.3" y="282.2" width="89.2" height="14.5" fill="#fff" stroke="#8a8a8a" stroke-width="0.9"/>
<path d="M216.9 289.8H239.3" stroke="#959595" stroke-width="0.9"/>
<text x="302" y="293.2" font-size="10.2" font-weight="normal" font-style="normal" text-anchor="end" fill="#000">905 nm 1:0.25</text>
<text x="69.73" y="306.1" font-size="10" font-weight="bold" font-style="normal" text-anchor="middle" fill="#000">100</text>
<text x="70.73" y="318.6" font-size="10" font-weight="bold" font-style="normal" text-anchor="middle" fill="#000">ppm</text>
<text x="119.07" y="306.1" font-size="10" font-weight="bold" font-style="normal" text-anchor="middle" fill="#000">80</text>
<text x="120.07" y="318.6" font-size="10" font-weight="bold" font-style="normal" text-anchor="middle" fill="#000">ppm</text>
<text x="168.41" y="306.8" font-size="10" font-weight="bold" font-style="normal" text-anchor="middle" fill="#000">60</text>
<text x="169.41" y="319.2" font-size="10" font-weight="bold" font-style="normal" text-anchor="middle" fill="#000">ppm</text>
<text x="217.75" y="307.2" font-size="10" font-weight="bold" font-style="normal" text-anchor="middle" fill="#000">40</text>
<text x="218.75" y="319.6" font-size="10" font-weight="bold" font-style="normal" text-anchor="middle" fill="#000">ppm</text>
<text x="267.1" y="308" font-size="10" font-weight="bold" font-style="normal" text-anchor="middle" fill="#000">20</text>
<text x="268.1" y="320.2" font-size="10" font-weight="bold" font-style="normal" text-anchor="middle" fill="#000">ppm</text>
<rect x="57.8" y="282.2" width="246.7" height="199.2" fill="none" stroke="#505050" stroke-width="1.35"/>
<text x="54" y="485.2" font-size="13" font-weight="bold" font-style="normal" text-anchor="end" fill="#000">100</text>
<text x="54" y="435.48" font-size="13" font-weight="bold" font-style="normal" text-anchor="end" fill="#000">150</text>
<text x="54" y="385.75" font-size="13" font-weight="bold" font-style="normal" text-anchor="end" fill="#000">200</text>
<text x="54" y="336.03" font-size="13" font-weight="bold" font-style="normal" text-anchor="end" fill="#000">250</text>
<text x="54" y="286.3" font-size="13" font-weight="bold" font-style="normal" text-anchor="end" fill="#000">300</text>
<path d="M57.8 481.1h3.5M57.8 431.38h3.5M57.8 381.65h3.5M57.8 331.93h3.5M57.8 282.2h3.5M57.8 456.24h2M57.8 406.51h2M57.8 356.79h2M57.8 307.06h2" stroke="#4a4a4a" stroke-width="1" fill="none"/>
<text x="57.8" y="496" font-size="13" font-weight="bold" font-style="normal" text-anchor="middle" fill="#000">0</text>
<text x="107.14" y="496" font-size="13" font-weight="bold" font-style="normal" text-anchor="middle" fill="#000">20</text>
<text x="156.48" y="496" font-size="13" font-weight="bold" font-style="normal" text-anchor="middle" fill="#000">40</text>
<text x="205.82" y="496" font-size="13" font-weight="bold" font-style="normal" text-anchor="middle" fill="#000">60</text>
<text x="255.16" y="496" font-size="13" font-weight="bold" font-style="normal" text-anchor="middle" fill="#000">80</text>
<text x="304.5" y="496" font-size="13" font-weight="bold" font-style="normal" text-anchor="middle" fill="#000">100</text>
<path d="M57.8 481.4v-3.5M107.14 481.4v-3.5M156.48 481.4v-3.5M205.82 481.4v-3.5M255.16 481.4v-3.5M304.5 481.4v-3.5M82.47 481.4v-2M131.81 481.4v-2M181.15 481.4v-2M230.49 481.4v-2M279.83 481.4v-2" stroke="#4a4a4a" stroke-width="1" fill="none"/>
<text x="181.15" y="517.3" font-size="13" font-weight="bold" font-style="normal" text-anchor="middle" fill="#000">Time (Min.)</text>
<text transform="translate(29.2 381.8) rotate(-90)" x="0" y="0" font-size="13" font-weight="bold" text-anchor="middle">Current (&#956;A)</text>
<rect x="427.4" y="282.2" width="24.5" height="199.2" fill="#fef9bd"/>
<rect x="476.31" y="282.2" width="25" height="199.2" fill="#fef9bd"/>
<rect x="525.71" y="282.2" width="25" height="199.2" fill="#fef9bd"/>
<rect x="575.11" y="282.2" width="25" height="199.2" fill="#fef9bd"/>
<rect x="624.51" y="282.2" width="25" height="199.2" fill="#fef9bd"/>
<path d="M427.4 477.19L427.65 474.84L427.89 472.59L428.14 470.45L428.39 468.39L428.63 466.43L428.88 464.55L429.13 462.76L429.38 461.05L429.62 459.41L429.87 457.84L430.12 456.34L430.36 454.91L430.61 453.54L430.86 452.23L431.1 450.98L431.35 449.78L431.6 448.64L431.85 447.55L432.09 446.5L432.34 445.5L432.59 444.55L432.83 443.63L433.08 442.76L433.33 441.93L433.57 441.13L433.82 440.36L434.07 439.64L434.32 438.94L434.56 438.27L434.81 437.63L435.06 437.03L435.3 436.44L435.55 435.89L435.8 435.35L436.04 434.85L436.29 434.36L436.54 433.89L436.79 433.45L437.03 433.02L437.28 432.62L437.53 432.23L437.77 431.86L438.02 431.5L438.27 431.16L438.51 430.84L438.76 430.53L439.01 430.23L439.26 429.95L439.5 429.68L439.75 429.42L440 429.17L440.24 428.94L440.49 428.71L440.74 428.49L440.98 428.29L441.23 428.09L441.48 427.9L441.73 427.72L441.97 427.55L442.22 427.38L442.47 427.22L442.71 427.07L442.96 426.93L443.21 426.79L443.45 426.66L443.7 426.53L443.95 426.41L444.2 426.3L444.44 426.19L444.69 426.08L444.94 425.98L445.18 425.88L445.43 425.79L445.68 425.7L445.92 425.62L446.17 425.54L446.42 425.46L446.67 425.39L446.91 425.32L447.16 425.25L447.41 425.19L447.65 425.13L447.9 425.07L448.15 425.01L448.39 424.96L448.64 424.91L448.89 424.86L449.14 424.81L449.38 424.77L449.63 424.72L449.88 424.68L450.12 424.64L450.37 424.61L450.62 424.57L450.86 424.54L451.11 424.5L451.36 424.47L451.61 424.44L451.85 424.41L452.1 424.39L452.35 425.41L452.59 426.41L452.84 427.4L453.09 428.38L453.33 429.34L453.58 430.29L453.83 431.22L454.08 432.14L454.32 433.04L454.57 433.93L454.82 434.81L455.06 435.68L455.31 436.53L455.56 437.37L455.8 438.2L456.05 439.01L456.3 439.81L456.55 440.6L456.79 441.38L457.04 442.15L457.29 442.91L457.53 443.65L457.78 444.38L458.03 445.11L458.27 445.82L458.52 446.52L458.77 447.21L459.02 447.89L459.26 448.56L459.51 449.22L459.76 449.87L460 450.51L460.25 451.14L460.5 451.76L460.75 452.37L460.99 452.98L461.24 453.57L461.49 454.16L461.73 454.73L461.98 455.3L462.23 455.86L462.47 456.41L462.72 456.95L462.97 457.49L463.21 458.01L463.46 458.53L463.71 459.05L463.96 459.55L464.2 460.04L464.45 460.53L464.7 461.01L464.94 461.49L465.19 461.96L465.44 462.42L465.68 462.87L465.93 463.32L466.18 463.76L466.43 464.19L466.67 464.62L466.92 465.04L467.17 465.45L467.41 465.86L467.66 466.26L467.91 466.66L468.15 467.05L468.4 467.43L468.65 467.81L468.9 468.18L469.14 468.55L469.39 468.91L469.64 469.27L469.88 469.62L470.13 469.96L470.38 470.3L470.62 470.64L470.87 470.97L471.12 471.29L471.37 471.62L471.61 471.93L471.86 472.24L472.11 472.55L472.35 472.85L472.6 473.15L472.85 473.44L473.09 473.73L473.34 474.01L473.59 474.3L473.84 474.57L474.08 474.84L474.33 475.11L474.58 475.37L474.82 475.63L475.07 475.89L475.32 476.14L475.56 476.39L475.81 476.64L476.06 476.88L476.31 477.11L476.55 477.35L476.8 477.58L476.8 477.58L477.05 472.69L477.29 469.22L477.54 466.53L477.79 464.33L478.03 462.47L478.28 460.86L478.53 459.44L478.78 458.17L479.02 457.02L479.27 455.97L479.52 455L479.76 454.11L480.01 453.28L480.26 452.5L480.5 451.77L480.75 451.08L481 450.43L481.25 449.81L481.49 449.22L481.74 448.66L481.99 448.12L482.23 447.61L482.48 447.12L482.73 446.64L482.97 446.19L483.22 445.75L483.47 445.33L483.72 444.92L483.96 444.52L484.21 444.14L484.46 443.77L484.7 443.41L484.95 443.06L485.2 442.72L485.44 442.39L485.69 442.07L485.94 441.75L486.19 441.45L486.43 441.15L486.68 440.86L486.93 440.57L487.17 440.3L487.42 440.03L487.67 439.76L487.91 439.5L488.16 439.25L488.41 439L488.66 438.76L488.9 438.52L489.15 438.28L489.4 438.05L489.64 437.83L489.89 437.61L490.14 437.39L490.38 437.18L490.63 436.97L490.88 436.76L491.13 436.56L491.37 436.36L491.62 436.16L491.87 435.97L492.11 435.78L492.36 435.59L492.61 435.41L492.85 435.23L493.1 435.05L493.35 434.87L493.6 434.7L493.84 434.53L494.09 434.36L494.34 434.19L494.58 434.03L494.83 433.87L495.08 433.71L495.32 433.55L495.57 433.39L495.82 433.24L496.07 433.09L496.31 432.94L496.56 432.79L496.81 432.64L497.05 432.5L497.3 432.36L497.55 432.21L497.79 432.08L498.04 431.94L498.29 431.8L498.54 431.67L498.78 431.53L499.03 431.4L499.28 431.27L499.52 431.14L499.77 431.01L500.02 430.89L500.26 430.76L500.51 430.64L500.76 430.52L501.01 430.4L501.25 430.28L501.5 430.16L501.75 431.04L501.99 431.91L502.24 432.76L502.49 433.6L502.73 434.44L502.98 435.26L503.23 436.06L503.48 436.86L503.72 437.65L503.97 438.42L504.22 439.19L504.46 439.94L504.71 440.68L504.96 441.42L505.2 442.14L505.45 442.85L505.7 443.55L505.95 444.24L506.19 444.92L506.44 445.6L506.69 446.26L506.93 446.91L507.18 447.56L507.43 448.19L507.67 448.82L507.92 449.44L508.17 450.05L508.42 450.65L508.66 451.24L508.91 451.83L509.16 452.4L509.4 452.97L509.65 453.53L509.9 454.08L510.14 454.62L510.39 455.16L510.64 455.69L510.89 456.21L511.13 456.72L511.38 457.23L511.63 457.73L511.87 458.22L512.12 458.71L512.37 459.19L512.62 459.66L512.86 460.13L513.11 460.59L513.36 461.04L513.6 461.48L513.85 461.92L514.1 462.36L514.34 462.79L514.59 463.21L514.84 463.62L515.09 464.03L515.33 464.44L515.58 464.84L515.83 465.23L516.07 465.62L516.32 466L516.57 466.37L516.81 466.74L517.06 467.11L517.31 467.47L517.55 467.83L517.8 468.18L518.05 468.52L518.3 468.87L518.54 469.2L518.79 469.53L519.04 469.86L519.28 470.18L519.53 470.5L519.78 470.81L520.02 471.12L520.27 471.43L520.52 471.73L520.77 472.02L521.01 472.31L521.26 472.6L521.51 472.89L521.75 473.17L522 473.44L522.25 473.71L522.5 473.98L522.74 474.25L522.99 474.51L523.24 474.76L523.48 475.02L523.73 475.27L523.98 475.51L524.22 475.75L524.47 475.99L524.72 476.23L524.96 476.46L525.21 476.69L525.46 476.92L525.71 477.14L525.95 477.36L526.2 477.58L526.2 477.58L526.45 473.16L526.69 470.03L526.94 467.6L527.19 465.61L527.43 463.94L527.68 462.48L527.93 461.2L528.18 460.05L528.42 459.01L528.67 458.07L528.92 457.19L529.16 456.39L529.41 455.63L529.66 454.93L529.9 454.27L530.15 453.65L530.4 453.06L530.65 452.5L530.89 451.97L531.14 451.46L531.39 450.98L531.63 450.52L531.88 450.07L532.13 449.64L532.38 449.23L532.62 448.84L532.87 448.46L533.12 448.09L533.36 447.73L533.61 447.38L533.86 447.05L534.1 446.72L534.35 446.41L534.6 446.1L534.85 445.8L535.09 445.51L535.34 445.23L535.59 444.95L535.83 444.68L536.08 444.42L536.33 444.17L536.57 443.92L536.82 443.67L537.07 443.43L537.31 443.2L537.56 442.97L537.81 442.74L538.06 442.52L538.3 442.31L538.55 442.1L538.8 441.89L539.04 441.69L539.29 441.49L539.54 441.29L539.78 441.1L540.03 440.91L540.28 440.72L540.53 440.54L540.77 440.36L541.02 440.18L541.27 440.01L541.51 439.83L541.76 439.67L542.01 439.5L542.25 439.34L542.5 439.17L542.75 439.02L543 438.86L543.24 438.7L543.49 438.55L543.74 438.4L543.98 438.25L544.23 438.11L544.48 437.96L544.73 437.82L544.97 437.68L545.22 437.54L545.47 437.4L545.71 437.27L545.96 437.14L546.21 437L546.45 436.87L546.7 436.74L546.95 436.62L547.19 436.49L547.44 436.37L547.69 436.24L547.94 436.12L548.18 436L548.43 435.88L548.68 435.76L548.92 435.65L549.17 435.53L549.42 435.42L549.66 435.31L549.91 435.19L550.16 435.08L550.41 434.97L550.65 434.87L550.9 434.76L551.15 435.54L551.39 436.31L551.64 437.07L551.89 437.82L552.13 438.56L552.38 439.29L552.63 440.01L552.88 440.72L553.12 441.42L553.37 442.11L553.62 442.79L553.86 443.46L554.11 444.13L554.36 444.78L554.61 445.43L554.85 446.07L555.1 446.69L555.35 447.31L555.59 447.93L555.84 448.53L556.09 449.13L556.33 449.71L556.58 450.29L556.83 450.86L557.08 451.43L557.32 451.98L557.57 452.53L557.82 453.07L558.06 453.61L558.31 454.14L558.56 454.66L558.8 455.17L559.05 455.68L559.3 456.17L559.54 456.67L559.79 457.15L560.04 457.63L560.29 458.11L560.53 458.57L560.78 459.03L561.03 459.49L561.27 459.93L561.52 460.38L561.77 460.81L562.01 461.24L562.26 461.67L562.51 462.09L562.76 462.5L563 462.91L563.25 463.31L563.5 463.71L563.74 464.1L563.99 464.48L564.24 464.86L564.49 465.24L564.73 465.61L564.98 465.98L565.23 466.34L565.47 466.69L565.72 467.04L565.97 467.39L566.21 467.73L566.46 468.07L566.71 468.4L566.95 468.73L567.2 469.05L567.45 469.37L567.7 469.69L567.94 470L568.19 470.3L568.44 470.61L568.68 470.91L568.93 471.2L569.18 471.49L569.42 471.78L569.67 472.06L569.92 472.34L570.17 472.61L570.41 472.88L570.66 473.15L570.91 473.42L571.15 473.68L571.4 473.93L571.65 474.19L571.89 474.44L572.14 474.69L572.39 474.93L572.64 475.17L572.88 475.41L573.13 475.64L573.38 475.87L573.62 476.1L573.87 476.32L574.12 476.54L574.37 476.76L574.61 476.98L574.86 477.19L575.11 477.4L575.35 477.61L575.6 477.81L575.6 477.81L575.85 474.21L576.09 471.65L576.34 469.67L576.59 468.05L576.84 466.68L577.08 465.49L577.33 464.45L577.58 463.51L577.82 462.66L578.07 461.89L578.32 461.18L578.56 460.52L578.81 459.91L579.06 459.33L579.3 458.79L579.55 458.29L579.8 457.81L580.05 457.35L580.29 456.92L580.54 456.5L580.79 456.11L581.03 455.73L581.28 455.37L581.53 455.02L581.77 454.68L582.02 454.36L582.27 454.05L582.52 453.75L582.76 453.45L583.01 453.17L583.26 452.9L583.5 452.63L583.75 452.38L584 452.13L584.25 451.88L584.49 451.65L584.74 451.41L584.99 451.19L585.23 450.97L585.48 450.76L585.73 450.55L585.97 450.34L586.22 450.14L586.47 449.95L586.71 449.76L586.96 449.57L587.21 449.39L587.46 449.21L587.7 449.03L587.95 448.86L588.2 448.69L588.44 448.52L588.69 448.36L588.94 448.2L589.18 448.04L589.43 447.89L589.68 447.74L589.93 447.59L590.17 447.44L590.42 447.29L590.67 447.15L590.91 447.01L591.16 446.87L591.41 446.74L591.65 446.61L591.9 446.47L592.15 446.34L592.4 446.22L592.64 446.09L592.89 445.97L593.14 445.84L593.38 445.72L593.63 445.6L593.88 445.49L594.12 445.37L594.37 445.25L594.62 445.14L594.87 445.03L595.11 444.92L595.36 444.81L595.61 444.7L595.85 444.6L596.1 444.49L596.35 444.39L596.6 444.28L596.84 444.18L597.09 444.08L597.34 443.98L597.58 443.88L597.83 443.79L598.08 443.69L598.32 443.6L598.57 443.5L598.82 443.41L599.06 443.32L599.31 443.23L599.56 443.14L599.81 443.05L600.05 442.96L600.3 442.87L600.55 443.47L600.79 444.06L601.04 444.65L601.29 445.23L601.53 445.8L601.78 446.36L602.03 446.92L602.28 447.47L602.52 448.02L602.77 448.56L603.02 449.09L603.26 449.61L603.51 450.13L603.76 450.64L604 451.15L604.25 451.65L604.5 452.15L604.75 452.63L604.99 453.12L605.24 453.59L605.49 454.06L605.73 454.53L605.98 454.99L606.23 455.44L606.47 455.89L606.72 456.34L606.97 456.77L607.22 457.21L607.46 457.63L607.71 458.06L607.96 458.47L608.2 458.89L608.45 459.29L608.7 459.7L608.94 460.09L609.19 460.49L609.44 460.88L609.69 461.26L609.93 461.64L610.18 462.01L610.43 462.38L610.67 462.75L610.92 463.11L611.17 463.47L611.41 463.82L611.66 464.17L611.91 464.51L612.16 464.85L612.4 465.19L612.65 465.52L612.9 465.85L613.14 466.17L613.39 466.49L613.64 466.81L613.88 467.12L614.13 467.43L614.38 467.73L614.63 468.03L614.87 468.33L615.12 468.62L615.37 468.91L615.61 469.2L615.86 469.48L616.11 469.76L616.36 470.04L616.6 470.31L616.85 470.58L617.1 470.85L617.34 471.12L617.59 471.38L617.84 471.63L618.08 471.89L618.33 472.14L618.58 472.39L618.83 472.63L619.07 472.87L619.32 473.11L619.57 473.35L619.81 473.58L620.06 473.81L620.31 474.04L620.55 474.27L620.8 474.49L621.05 474.71L621.29 474.93L621.54 475.14L621.79 475.35L622.04 475.56L622.28 475.77L622.53 475.98L622.78 476.18L623.02 476.38L623.27 476.57L623.52 476.77L623.76 476.96L624.01 477.15L624.26 477.34L624.51 477.53L624.75 477.71L625 477.89L625 477.89L625.25 475.62L625.49 474.01L625.74 472.76L625.99 471.74L626.24 470.88L626.48 470.14L626.73 469.48L626.98 468.89L627.22 468.35L627.47 467.87L627.72 467.42L627.96 467L628.21 466.62L628.46 466.26L628.7 465.92L628.95 465.6L629.2 465.3L629.45 465.01L629.69 464.74L629.94 464.48L630.19 464.23L630.43 463.99L630.68 463.76L630.93 463.54L631.17 463.33L631.42 463.13L631.67 462.93L631.92 462.74L632.16 462.56L632.41 462.38L632.66 462.21L632.9 462.04L633.15 461.88L633.4 461.72L633.64 461.57L633.89 461.42L634.14 461.27L634.39 461.13L634.63 460.99L634.88 460.86L635.13 460.73L635.37 460.6L635.62 460.47L635.87 460.35L636.12 460.23L636.36 460.11L636.61 460L636.86 459.88L637.1 459.77L637.35 459.66L637.6 459.56L637.84 459.45L638.09 459.35L638.34 459.25L638.59 459.15L638.83 459.05L639.08 458.96L639.33 458.86L639.57 458.77L639.82 458.68L640.07 458.59L640.31 458.5L640.56 458.42L640.81 458.33L641.05 458.25L641.3 458.16L641.55 458.08L641.8 458L642.04 457.92L642.29 457.84L642.54 457.77L642.78 457.69L643.03 457.62L643.28 457.54L643.52 457.47L643.77 457.4L644.02 457.32L644.27 457.25L644.51 457.19L644.76 457.12L645.01 457.05L645.25 456.98L645.5 456.92L645.75 456.85L646 456.79L646.24 456.72L646.49 456.66L646.74 456.6L646.98 456.53L647.23 456.47L647.48 456.41L647.72 456.35L647.97 456.29L648.22 456.23L648.46 456.18L648.71 456.12L648.96 456.06L649.21 456.01L649.45 455.95L649.7 455.9L649.95 456.24L650.19 456.58L650.44 456.92L650.69 457.26L650.93 457.59L651.18 457.92L651.43 458.24L651.68 458.56L651.92 458.88L652.17 459.2L652.42 459.51L652.66 459.83L652.91 460.13L653.16 460.44L653.4 460.74L653.65 461.04L653.9 461.34L654.15 461.63L654.39 461.92L654.64 462.21L654.89 462.5L655.13 462.78L655.38 463.06L655.63 463.34L655.88 463.61L656.12 463.89L656.37 464.16L656.62 464.42L656.86 464.69L657.11 464.95L657.36 465.21L657.6 465.47L657.85 465.72L658.1 465.98L658.35 466.23L658.59 466.47L658.84 466.72L659.09 466.96L659.33 467.21L659.58 467.44L659.83 467.68L660.07 467.92L660.32 468.15L660.57 468.38L660.81 468.61L661.06 468.83L661.31 469.06L661.56 469.28L661.8 469.5L662.05 469.72L662.3 469.93L662.54 470.14L662.79 470.36L663.04 470.57L663.28 470.77L663.53 470.98L663.78 471.18L664.03 471.38L664.27 471.58L664.52 471.78L664.77 471.98L665.01 472.17L665.26 472.37L665.51 472.56L665.75 472.75L666 472.93L666.25 473.12L666.5 473.3L666.74 473.48L666.99 473.66L667.24 473.84L667.48 474.02L667.73 474.2L667.98 474.37L668.22 474.54L668.47 474.71L668.72 474.88L668.97 475.05L669.21 475.21L669.46 475.38L669.71 475.54L669.95 475.7L670.2 475.86L670.45 476.02L670.69 476.18L670.94 476.33L671.19 476.49L671.44 476.64L671.68 476.79L671.93 476.94L672.18 477.09L672.42 477.23L672.67 477.38L672.92 477.52L673.16 477.66L673.41 477.81L673.66 477.95L673.91 478.08L674.15 478.22L674.4 478.36" stroke="#959595" stroke-width="0.9" fill="none" stroke-linejoin="round"/>
<rect x="598.5" y="282.2" width="75.9" height="14.7" fill="#fff" stroke="#8a8a8a" stroke-width="0.9"/>
<path d="M600.3 289.4H622.2" stroke="#959595" stroke-width="0.9"/>
<text x="672.1" y="293.4" font-size="10.2" font-weight="normal" font-style="normal" text-anchor="end" fill="#000">905 nm 1:2</text>
<text x="438.65" y="306.1" font-size="10" font-weight="bold" font-style="normal" text-anchor="middle" fill="#000">100</text>
<text x="439.65" y="318.6" font-size="10" font-weight="bold" font-style="normal" text-anchor="middle" fill="#000">ppm</text>
<text x="488.05" y="306.1" font-size="10" font-weight="bold" font-style="normal" text-anchor="middle" fill="#000">80</text>
<text x="489.05" y="318.6" font-size="10" font-weight="bold" font-style="normal" text-anchor="middle" fill="#000">ppm</text>
<text x="537.45" y="306.8" font-size="10" font-weight="bold" font-style="normal" text-anchor="middle" fill="#000">60</text>
<text x="538.45" y="319.2" font-size="10" font-weight="bold" font-style="normal" text-anchor="middle" fill="#000">ppm</text>
<text x="586.85" y="306.9" font-size="10" font-weight="bold" font-style="normal" text-anchor="middle" fill="#000">40</text>
<text x="587.85" y="319.4" font-size="10" font-weight="bold" font-style="normal" text-anchor="middle" fill="#000">ppm</text>
<text x="636.25" y="308.2" font-size="10" font-weight="bold" font-style="normal" text-anchor="middle" fill="#000">20</text>
<text x="637.25" y="320.4" font-size="10" font-weight="bold" font-style="normal" text-anchor="middle" fill="#000">ppm</text>
<rect x="427.4" y="282.2" width="247" height="199.2" fill="none" stroke="#505050" stroke-width="1.35"/>
<text x="423.2" y="481.09" font-size="13" font-weight="bold" font-style="normal" text-anchor="end" fill="#000">1500</text>
<text x="423.2" y="442.09" font-size="13" font-weight="bold" font-style="normal" text-anchor="end" fill="#000">2000</text>
<text x="423.2" y="403.09" font-size="13" font-weight="bold" font-style="normal" text-anchor="end" fill="#000">2500</text>
<text x="423.2" y="364.1" font-size="13" font-weight="bold" font-style="normal" text-anchor="end" fill="#000">3000</text>
<text x="423.2" y="325.1" font-size="13" font-weight="bold" font-style="normal" text-anchor="end" fill="#000">3500</text>
<text x="423.2" y="286.1" font-size="13" font-weight="bold" font-style="normal" text-anchor="end" fill="#000">4000</text>
<path d="M427.4 477.19h3.5M427.4 438.19h3.5M427.4 399.19h3.5M427.4 360.2h3.5M427.4 321.2h3.5M427.4 282.2h3.5M427.4 457.69h2M427.4 418.69h2M427.4 379.69h2M427.4 340.7h2M427.4 301.7h2" stroke="#4a4a4a" stroke-width="1" fill="none"/>
<text x="427.4" y="496" font-size="13" font-weight="bold" font-style="normal" text-anchor="middle" fill="#000">0</text>
<text x="476.8" y="496" font-size="13" font-weight="bold" font-style="normal" text-anchor="middle" fill="#000">20</text>
<text x="526.2" y="496" font-size="13" font-weight="bold" font-style="normal" text-anchor="middle" fill="#000">40</text>
<text x="575.6" y="496" font-size="13" font-weight="bold" font-style="normal" text-anchor="middle" fill="#000">60</text>
<text x="625" y="496" font-size="13" font-weight="bold" font-style="normal" text-anchor="middle" fill="#000">80</text>
<text x="674.4" y="496" font-size="13" font-weight="bold" font-style="normal" text-anchor="middle" fill="#000">100</text>
<path d="M427.4 481.4v-3.5M476.8 481.4v-3.5M526.2 481.4v-3.5M575.6 481.4v-3.5M625 481.4v-3.5M674.4 481.4v-3.5M452.1 481.4v-2M501.5 481.4v-2M550.9 481.4v-2M600.3 481.4v-2M649.7 481.4v-2" stroke="#4a4a4a" stroke-width="1" fill="none"/>
<text x="550.9" y="517.3" font-size="13" font-weight="bold" font-style="normal" text-anchor="middle" fill="#000">Time (Min.)</text>
<text transform="translate(392.2 381.8) rotate(-90)" x="0" y="0" font-size="13" font-weight="bold" text-anchor="middle">Current (&#956;A)</text>
<path d="M86.73 729.48L135.79 681.18L184.85 634.72L233.91 611.99L282.97 582.76" stroke="#9a9a9a" stroke-width="0.9" fill="none"/>
<path d="M86.73 752.36L135.79 735.27L184.85 723.83L233.91 715.08L282.97 704.34" stroke="#f08a8a" stroke-width="0.9" fill="none"/>
<path d="M86.73 758.15L135.79 756.73L184.85 753.34L233.91 750.8L282.97 745.72" stroke="#8fb0ea" stroke-width="0.9" fill="none"/>
<path d="M86.73 759.56L135.79 757.86L184.85 756.45L233.91 756.03L282.97 755.46" stroke="#96d2a8" stroke-width="0.9" fill="none"/>
<rect x="84.33" y="727.18" width="4.8" height="4.6" fill="#3d3d3d"/>
<rect x="133.39" y="678.88" width="4.8" height="4.6" fill="#3d3d3d"/>
<rect x="182.45" y="632.42" width="4.8" height="4.6" fill="#3d3d3d"/>
<rect x="231.51" y="609.69" width="4.8" height="4.6" fill="#3d3d3d"/>
<rect x="280.57" y="580.46" width="4.8" height="4.6" fill="#3d3d3d"/>
<circle cx="86.73" cy="752.36" r="2.6" fill="#ee3535"/>
<circle cx="135.79" cy="735.27" r="2.6" fill="#ee3535"/>
<circle cx="184.85" cy="723.83" r="2.6" fill="#ee3535"/>
<circle cx="233.91" cy="715.08" r="2.6" fill="#ee3535"/>
<circle cx="282.97" cy="704.34" r="2.6" fill="#ee3535"/>
<path d="M86.73 755.15L89.63 760.25L83.83 760.25Z" fill="#1f62dc"/>
<path d="M135.79 753.73L138.69 758.83L132.89 758.83Z" fill="#1f62dc"/>
<path d="M184.85 750.34L187.75 755.44L181.95 755.44Z" fill="#1f62dc"/>
<path d="M233.91 747.8L236.81 752.9L231.01 752.9Z" fill="#1f62dc"/>
<path d="M282.97 742.72L285.87 747.82L280.07 747.82Z" fill="#1f62dc"/>
<path d="M86.73 762.56L89.63 757.46L83.83 757.46Z" fill="#2ea05a"/>
<path d="M135.79 760.86L138.69 755.76L132.89 755.76Z" fill="#2ea05a"/>
<path d="M184.85 759.45L187.75 754.35L181.95 754.35Z" fill="#2ea05a"/>
<path d="M233.91 759.03L236.81 753.93L231.01 753.93Z" fill="#2ea05a"/>
<path d="M282.97 758.46L285.87 753.36L280.07 753.36Z" fill="#2ea05a"/>
<rect x="62.2" y="564.4" width="245.3" height="197.7" fill="none" stroke="#858585" stroke-width="1.6"/>
<text x="57.7" y="765.5" font-size="13" font-weight="bold" font-style="normal" text-anchor="end" fill="#000">0</text>
<text x="57.7" y="737.26" font-size="13" font-weight="bold" font-style="normal" text-anchor="end" fill="#000">2</text>
<text x="57.7" y="709.01" font-size="13" font-weight="bold" font-style="normal" text-anchor="end" fill="#000">4</text>
<text x="57.7" y="680.77" font-size="13" font-weight="bold" font-style="normal" text-anchor="end" fill="#000">6</text>
<text x="57.7" y="652.53" font-size="13" font-weight="bold" font-style="normal" text-anchor="end" fill="#000">8</text>
<text x="57.7" y="624.29" font-size="13" font-weight="bold" font-style="normal" text-anchor="end" fill="#000">10</text>
<text x="57.7" y="596.04" font-size="13" font-weight="bold" font-style="normal" text-anchor="end" fill="#000">12</text>
<text x="57.7" y="567.8" font-size="13" font-weight="bold" font-style="normal" text-anchor="end" fill="#000">14</text>
<path d="M62.2 762.1h3.5M62.2 733.86h3.5M62.2 705.61h3.5M62.2 677.37h3.5M62.2 649.13h3.5M62.2 620.89h3.5M62.2 592.64h3.5M62.2 564.4h3.5M62.2 747.98h2M62.2 719.74h2M62.2 691.49h2M62.2 663.25h2M62.2 635.01h2M62.2 606.76h2M62.2 578.52h2" stroke="#858585" stroke-width="1" fill="none"/>
<text x="86.73" y="776.4" font-size="13" font-weight="bold" font-style="normal" text-anchor="middle" fill="#000">20</text>
<text x="135.79" y="776.4" font-size="13" font-weight="bold" font-style="normal" text-anchor="middle" fill="#000">40</text>
<text x="184.85" y="776.4" font-size="13" font-weight="bold" font-style="normal" text-anchor="middle" fill="#000">60</text>
<text x="233.91" y="776.4" font-size="13" font-weight="bold" font-style="normal" text-anchor="middle" fill="#000">80</text>
<text x="282.97" y="776.4" font-size="13" font-weight="bold" font-style="normal" text-anchor="middle" fill="#000">100</text>
<path d="M86.73 762.1v-3.5M135.79 762.1v-3.5M184.85 762.1v-3.5M233.91 762.1v-3.5M282.97 762.1v-3.5M111.26 762.1v-2M160.32 762.1v-2M209.38 762.1v-2M258.44 762.1v-2" stroke="#858585" stroke-width="1" fill="none"/>
<rect x="62.2" y="564.4" width="109.6" height="52" fill="#fff" stroke="#7a7a7a" stroke-width="1.1"/>
<path d="M63.9 571.7H86.3" stroke="#9a9a9a" stroke-width="0.9"/>
<rect x="72.9" y="569.4" width="4.8" height="4.6" fill="#3d3d3d"/>
<text x="88.9" y="575" font-size="10.25" font-weight="normal" font-style="normal" text-anchor="start" fill="#000">PbS:P3HT = 1:1</text>
<path d="M63.9 584.3H86.3" stroke="#f08a8a" stroke-width="0.9"/>
<circle cx="75.3" cy="584.3" r="2.6" fill="#ee3535"/>
<text x="88.9" y="587.6" font-size="10.25" font-weight="normal" font-style="normal" text-anchor="start" fill="#000">PbS:P3HT = 1:0.5</text>
<path d="M63.9 596.9H86.3" stroke="#8fb0ea" stroke-width="0.9"/>
<path d="M75.3 593.9L78.2 599L72.4 599Z" fill="#1f62dc"/>
<text x="88.9" y="600.2" font-size="10.25" font-weight="normal" font-style="normal" text-anchor="start" fill="#000">PbS:P3HT = 1:0.25</text>
<path d="M63.9 609.5H86.3" stroke="#96d2a8" stroke-width="0.9"/>
<path d="M75.3 612.5L78.2 607.4L72.4 607.4Z" fill="#2ea05a"/>
<text x="88.9" y="612.8" font-size="10.25" font-weight="normal" font-style="normal" text-anchor="start" fill="#000">PbS:P3HT = 1:2</text>
<text x="184.85" y="797.3" font-size="13" font-weight="bold" font-style="normal" text-anchor="middle" fill="#000">Concentraion (ppm)</text>
<text transform="translate(36.7 663.25) rotate(-90)" x="0" y="0" font-size="13" font-weight="bold" text-anchor="middle">Response (<tspan font-style="italic">&#916;I</tspan>/<tspan font-style="italic">I</tspan><tspan font-style="italic" font-size="9" dy="2">0</tspan><tspan dy="-2">)</tspan></text>
<rect x="439.4" y="756.4" width="36.92" height="5.8" fill="#008000" stroke="#333" stroke-width="0.9"/>
<rect x="500.93" y="595.26" width="36.92" height="166.94" fill="#ffff00" stroke="#333" stroke-width="0.9"/>
<rect x="562.46" y="708.53" width="36.92" height="53.67" fill="#ff0000" stroke="#333" stroke-width="0.9"/>
<rect x="623.98" y="747.3" width="36.92" height="14.9" fill="#0000ff" stroke="#333" stroke-width="0.9"/>
<rect x="612.6" y="564.4" width="60.6" height="15.7" fill="#fff" stroke="#4a4a4a" stroke-width="0.9"/>
<text x="614" y="575" font-size="10.2" text-anchor="start">NO<tspan font-size="7" dy="2">2</tspan><tspan dy="-2"> 100 ppm</tspan></text>
<rect x="427.1" y="564.4" width="246.1" height="197.8" fill="none" stroke="#8a8a8a" stroke-width="1.6"/>
<text x="422.6" y="765.6" font-size="13" font-weight="bold" font-style="normal" text-anchor="end" fill="#000">0</text>
<text x="422.6" y="726.04" font-size="13" font-weight="bold" font-style="normal" text-anchor="end" fill="#000">3</text>
<text x="422.6" y="686.48" font-size="13" font-weight="bold" font-style="normal" text-anchor="end" fill="#000">6</text>
<text x="422.6" y="646.92" font-size="13" font-weight="bold" font-style="normal" text-anchor="end" fill="#000">9</text>
<text x="422.6" y="607.36" font-size="13" font-weight="bold" font-style="normal" text-anchor="end" fill="#000">12</text>
<text x="422.6" y="567.8" font-size="13" font-weight="bold" font-style="normal" text-anchor="end" fill="#000">15</text>
<path d="M427.1 762.2h3.5M427.1 722.64h3.5M427.1 683.08h3.5M427.1 643.52h3.5M427.1 603.96h3.5M427.1 564.4h3.5M427.1 742.42h2M427.1 702.86h2M427.1 663.3h2M427.1 623.74h2M427.1 584.18h2" stroke="#8a8a8a" stroke-width="1" fill="none"/>
<text x="457.86" y="777.2" font-size="13" font-weight="bold" font-style="normal" text-anchor="middle" fill="#000">1:2</text>
<text x="519.39" y="777.2" font-size="13" font-weight="bold" font-style="normal" text-anchor="middle" fill="#000">1:1</text>
<text x="580.91" y="777.2" font-size="13" font-weight="bold" font-style="normal" text-anchor="middle" fill="#000">1:0.5</text>
<text x="642.44" y="777.2" font-size="13" font-weight="bold" font-style="normal" text-anchor="middle" fill="#000">1:0.25</text>
<path d="M457.86 762.2v-3.5M519.39 762.2v-3.5M580.91 762.2v-3.5M642.44 762.2v-3.5M488.62 762.2v-2M550.15 762.2v-2M611.68 762.2v-2" stroke="#8a8a8a" stroke-width="1" fill="none"/>
<text x="550.15" y="797.6" font-size="13" font-weight="bold" font-style="normal" text-anchor="middle" fill="#000">PbS:P3HT</text>
<text transform="translate(402.4 663.3) rotate(-90)" x="0" y="0" font-size="13" font-weight="bold" text-anchor="middle">Response (<tspan font-style="italic">&#916;I</tspan>/<tspan font-style="italic">I</tspan><tspan font-style="italic" font-size="9" dy="2">0</tspan><tspan dy="-2">)</tspan></text>
</svg>
</body></html>
